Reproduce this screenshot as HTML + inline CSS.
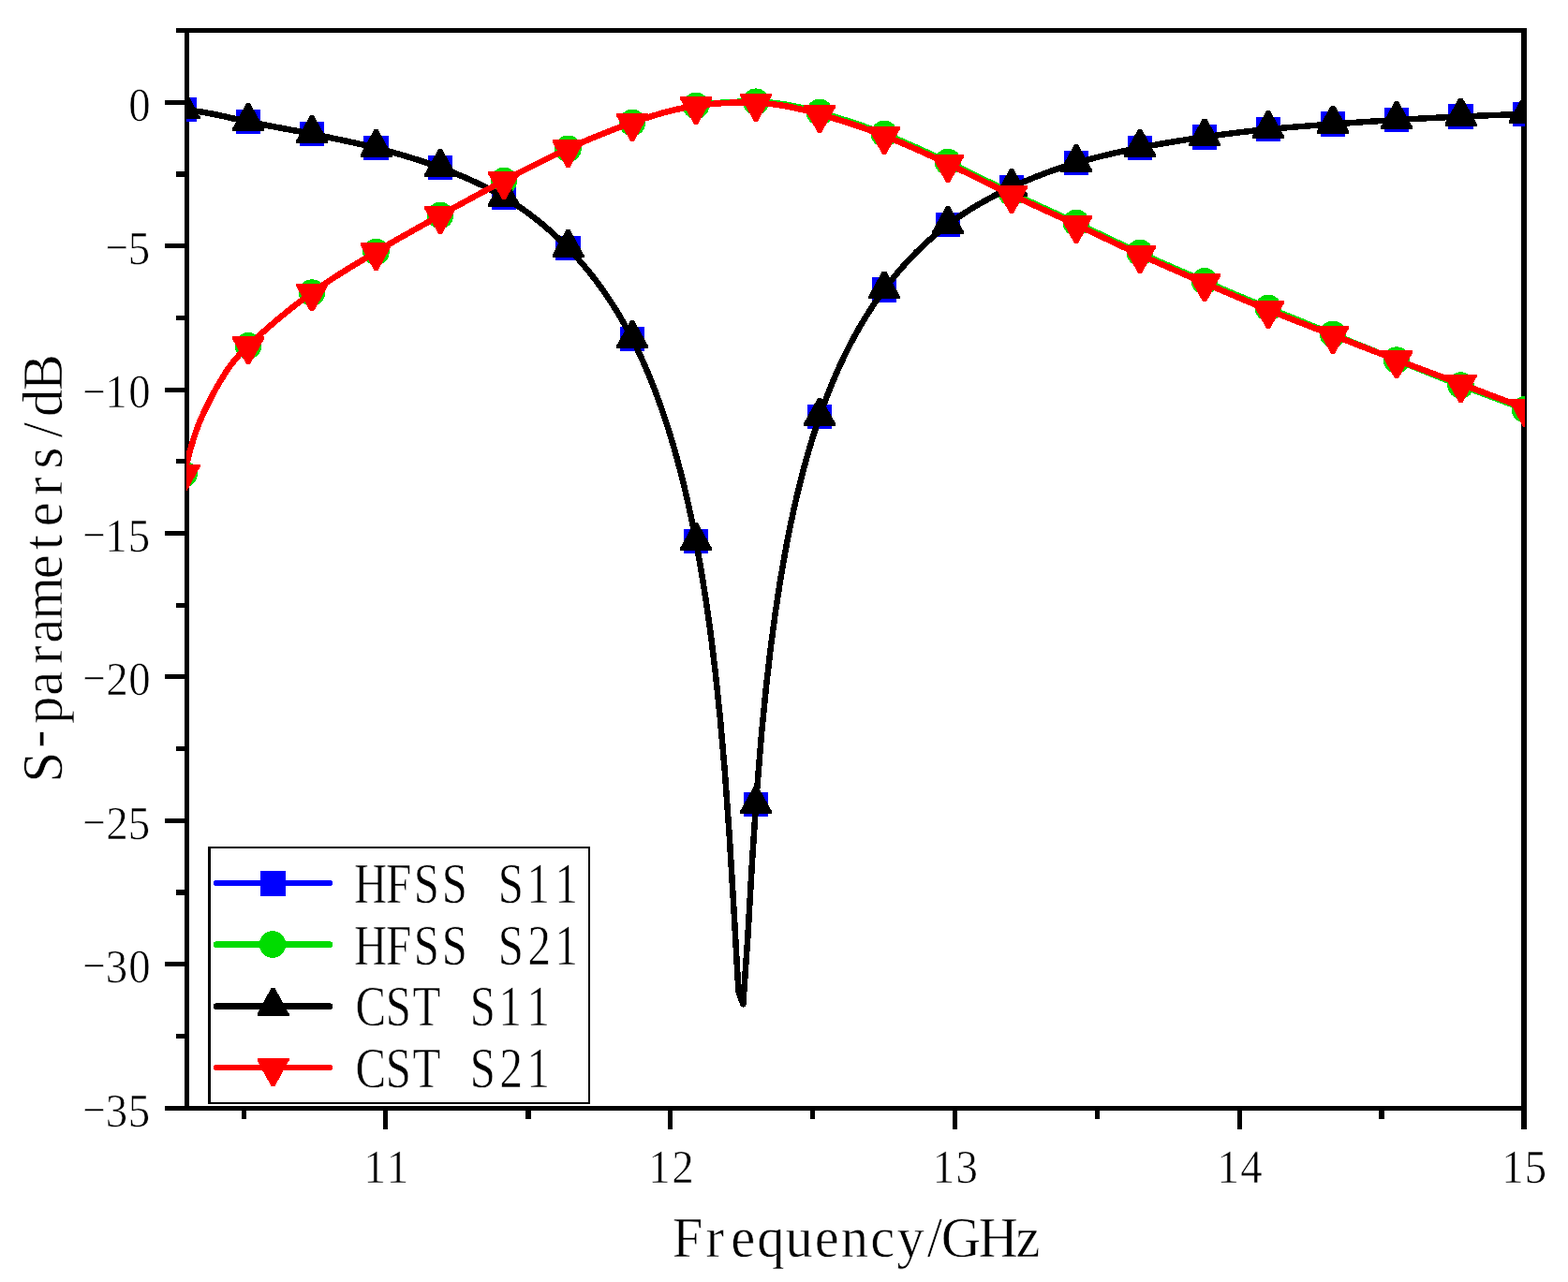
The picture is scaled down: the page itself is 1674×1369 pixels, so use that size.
<!DOCTYPE html>
<html lang="en"><head><meta charset="utf-8"><title>S-parameters</title>
<style>
html,body{margin:0;padding:0;background:#fff;}
body{width:1674px;height:1369px;overflow:hidden;}
svg{display:block;}
</style></head><body>
<svg width="1674" height="1369" viewBox="0 0 1674 1369" shape-rendering="crispEdges" text-rendering="geometricPrecision">
<rect width="1674" height="1369" fill="#fff"/>
<g fill="#000">
<rect x="197" y="30" width="5" height="1156"/>
<rect x="1624" y="30" width="6" height="1176"/>
<rect x="188" y="30" width="1442" height="5"/>
<rect x="176" y="1181" width="1454" height="5"/>
<rect x="176" y="107" width="21" height="5"/>
<rect x="176" y="260" width="21" height="5"/>
<rect x="176" y="414" width="21" height="5"/>
<rect x="176" y="567" width="21" height="5"/>
<rect x="176" y="720" width="21" height="5"/>
<rect x="176" y="874" width="21" height="5"/>
<rect x="176" y="1027" width="21" height="5"/>
<rect x="188" y="183" width="9" height="6"/>
<rect x="188" y="337" width="9" height="5"/>
<rect x="188" y="490" width="9" height="5"/>
<rect x="188" y="644" width="9" height="5"/>
<rect x="188" y="797" width="9" height="5"/>
<rect x="188" y="950" width="9" height="6"/>
<rect x="188" y="1104" width="9" height="5"/>
<rect x="409" y="1186" width="5" height="20"/>
<rect x="713" y="1186" width="5" height="20"/>
<rect x="1017" y="1186" width="5" height="20"/>
<rect x="1321" y="1186" width="5" height="20"/>
<rect x="258" y="1186" width="5" height="9"/>
<rect x="561" y="1186" width="6" height="9"/>
<rect x="865" y="1186" width="5" height="9"/>
<rect x="1169" y="1186" width="5" height="9"/>
<rect x="1472" y="1186" width="6" height="9"/>
</g>
<defs><clipPath id="plotclip"><rect x="199" y="35" width="1429" height="1146"/></clipPath></defs>
<g clip-path="url(#plotclip)" shape-rendering="crispEdges">
<path d="M197.0,117.1 L198.0,117.2 L199.0,117.3 L200.0,117.4 L201.0,117.5 L202.0,117.7 L203.0,117.8 L204.0,117.9 L205.0,118.1 L206.0,118.2 L207.0,118.3 L208.0,118.5 L209.0,118.6 L210.0,118.8 L211.0,118.9 L212.0,119.1 L213.0,119.2 L214.0,119.4 L215.0,119.6 L216.0,119.7 L217.0,119.9 L218.0,120.1 L219.0,120.2 L220.0,120.4 L221.0,120.6 L222.0,120.8 L223.0,120.9 L224.0,121.1 L225.0,121.3 L226.0,121.5 L227.0,121.7 L228.0,121.9 L229.0,122.1 L230.0,122.3 L231.0,122.5 L232.0,122.7 L233.0,122.9 L234.0,123.1 L235.0,123.3 L236.0,123.6 L237.0,123.8 L238.0,124.0 L239.0,124.2 L240.0,124.4 L241.0,124.7 L242.0,124.9 L243.0,125.1 L244.0,125.3 L245.0,125.6 L246.0,125.8 L247.0,126.0 L248.0,126.3 L249.0,126.5 L250.0,126.7 L251.0,126.9 L252.0,127.2 L253.0,127.4 L254.0,127.6 L255.0,127.9 L256.0,128.1 L257.0,128.3 L258.0,128.5 L259.0,128.7 L260.0,129.0 L261.0,129.2 L262.0,129.4 L263.0,129.6 L264.0,129.8 L265.0,130.0 L266.0,130.2 L267.0,130.4 L268.0,130.6 L269.0,130.8 L270.0,131.0 L271.0,131.2 L272.0,131.4 L273.0,131.6 L274.0,131.8 L275.0,132.0 L276.0,132.2 L277.0,132.4 L278.0,132.5 L279.0,132.7 L280.0,132.9 L281.0,133.1 L282.0,133.3 L283.0,133.5 L284.0,133.7 L285.0,133.9 L286.0,134.1 L287.0,134.3 L288.0,134.5 L289.0,134.7 L290.0,134.8 L291.0,135.0 L292.0,135.2 L293.0,135.4 L294.0,135.6 L295.0,135.8 L296.0,136.0 L297.0,136.2 L298.0,136.3 L299.0,136.5 L300.0,136.7 L301.0,136.9 L302.0,137.1 L303.0,137.3 L304.0,137.5 L305.0,137.6 L306.0,137.8 L307.0,138.0 L308.0,138.2 L309.0,138.4 L310.0,138.6 L311.0,138.8 L312.0,138.9 L313.0,139.1 L314.0,139.3 L315.0,139.5 L316.0,139.7 L317.0,139.9 L318.0,140.1 L319.0,140.3 L320.0,140.4 L321.0,140.6 L322.0,140.8 L323.0,141.0 L324.0,141.2 L325.0,141.4 L326.0,141.6 L327.0,141.8 L328.0,142.0 L329.0,142.2 L330.0,142.4 L331.0,142.6 L332.0,142.8 L333.0,143.0 L334.0,143.2 L335.0,143.4 L336.0,143.6 L337.0,143.8 L338.0,144.0 L339.0,144.2 L340.0,144.4 L341.0,144.7 L342.0,144.9 L343.0,145.1 L344.0,145.3 L345.0,145.5 L346.0,145.7 L347.0,145.9 L348.0,146.1 L349.0,146.3 L350.0,146.5 L351.0,146.7 L352.0,146.9 L353.0,147.1 L354.0,147.3 L355.0,147.6 L356.0,147.8 L357.0,148.0 L358.0,148.2 L359.0,148.4 L360.0,148.6 L361.0,148.8 L362.0,149.0 L363.0,149.2 L364.0,149.4 L365.0,149.6 L366.0,149.9 L367.0,150.1 L368.0,150.3 L369.0,150.5 L370.0,150.7 L371.0,150.9 L372.0,151.1 L373.0,151.4 L374.0,151.6 L375.0,151.8 L376.0,152.0 L377.0,152.2 L378.0,152.4 L379.0,152.7 L380.0,152.9 L381.0,153.1 L382.0,153.3 L383.0,153.6 L384.0,153.8 L385.0,154.0 L386.0,154.2 L387.0,154.5 L388.0,154.7 L389.0,154.9 L390.0,155.2 L391.0,155.4 L392.0,155.6 L393.0,155.9 L394.0,156.1 L395.0,156.4 L396.0,156.6 L397.0,156.9 L398.0,157.1 L399.0,157.4 L400.0,157.6 L401.0,157.9 L402.0,158.1 L403.0,158.4 L404.0,158.6 L405.0,158.9 L406.0,159.2 L407.0,159.4 L408.0,159.7 L409.0,160.0 L410.0,160.2 L411.0,160.5 L412.0,160.8 L413.0,161.0 L414.0,161.3 L415.0,161.6 L416.0,161.9 L417.0,162.1 L418.0,162.4 L419.0,162.7 L420.0,163.0 L421.0,163.2 L422.0,163.5 L423.0,163.8 L424.0,164.1 L425.0,164.4 L426.0,164.7 L427.0,165.0 L428.0,165.2 L429.0,165.5 L430.0,165.8 L431.0,166.1 L432.0,166.4 L433.0,166.7 L434.0,167.0 L435.0,167.3 L436.0,167.6 L437.0,167.9 L438.0,168.2 L439.0,168.5 L440.0,168.8 L441.0,169.1 L442.0,169.5 L443.0,169.8 L444.0,170.1 L445.0,170.4 L446.0,170.7 L447.0,171.0 L448.0,171.4 L449.0,171.7 L450.0,172.0 L451.0,172.3 L452.0,172.7 L453.0,173.0 L454.0,173.3 L455.0,173.7 L456.0,174.0 L457.0,174.4 L458.0,174.7 L459.0,175.0 L460.0,175.4 L461.0,175.7 L462.0,176.1 L463.0,176.5 L464.0,176.8 L465.0,177.2 L466.0,177.5 L467.0,177.9 L468.0,178.3 L469.0,178.6 L470.0,179.0 L471.0,179.4 L472.0,179.8 L473.0,180.1 L474.0,180.5 L475.0,180.9 L476.0,181.3 L477.0,181.7 L478.0,182.0 L479.0,182.4 L480.0,182.8 L481.0,183.2 L482.0,183.6 L483.0,184.0 L484.0,184.4 L485.0,184.8 L486.0,185.2 L487.0,185.6 L488.0,186.0 L489.0,186.5 L490.0,186.9 L491.0,187.3 L492.0,187.7 L493.0,188.1 L494.0,188.6 L495.0,189.0 L496.0,189.4 L497.0,189.8 L498.0,190.3 L499.0,190.7 L500.0,191.2 L501.0,191.6 L502.0,192.0 L503.0,192.5 L504.0,192.9 L505.0,193.4 L506.0,193.9 L507.0,194.3 L508.0,194.8 L509.0,195.3 L510.0,195.7 L511.0,196.2 L512.0,196.7 L513.0,197.2 L514.0,197.6 L515.0,198.1 L516.0,198.6 L517.0,199.1 L518.0,199.6 L519.0,200.1 L520.0,200.6 L521.0,201.1 L522.0,201.7 L523.0,202.2 L524.0,202.7 L525.0,203.2 L526.0,203.8 L527.0,204.3 L528.0,204.8 L529.0,205.4 L530.0,205.9 L531.0,206.5 L532.0,207.0 L533.0,207.6 L534.0,208.2 L535.0,208.7 L536.0,209.3 L537.0,209.9 L538.0,210.5 L539.0,211.1 L540.0,211.7 L541.0,212.3 L542.0,212.9 L543.0,213.5 L544.0,214.1 L545.0,214.8 L546.0,215.4 L547.0,216.0 L548.0,216.7 L549.0,217.3 L550.0,218.0 L551.0,218.6 L552.0,219.3 L553.0,220.0 L554.0,220.6 L555.0,221.3 L556.0,222.0 L557.0,222.7 L558.0,223.4 L559.0,224.1 L560.0,224.8 L561.0,225.5 L562.0,226.2 L563.0,227.0 L564.0,227.7 L565.0,228.4 L566.0,229.2 L567.0,229.9 L568.0,230.7 L569.0,231.5 L570.0,232.2 L571.0,233.0 L572.0,233.8 L573.0,234.6 L574.0,235.4 L575.0,236.2 L576.0,237.0 L577.0,237.8 L578.0,238.6 L579.0,239.4 L580.0,240.3 L581.0,241.1 L582.0,242.0 L583.0,242.8 L584.0,243.7 L585.0,244.6 L586.0,245.4 L587.0,246.3 L588.0,247.2 L589.0,248.1 L590.0,249.0 L591.0,249.9 L592.0,250.8 L593.0,251.8 L594.0,252.7 L595.0,253.6 L596.0,254.6 L597.0,255.5 L598.0,256.5 L599.0,257.5 L600.0,258.5 L601.0,259.4 L602.0,260.4 L603.0,261.4 L604.0,262.4 L605.0,263.5 L606.0,264.5 L607.0,265.5 L608.0,266.6 L609.0,267.6 L610.0,268.7 L611.0,269.7 L612.0,270.8 L613.0,271.9 L614.0,273.0 L615.0,274.1 L616.0,275.2 L617.0,276.3 L618.0,277.4 L619.0,278.6 L620.0,279.7 L621.0,280.9 L622.0,282.0 L623.0,283.2 L624.0,284.4 L625.0,285.6 L626.0,286.8 L627.0,288.0 L628.0,289.2 L629.0,290.4 L630.0,291.7 L631.0,292.9 L632.0,294.2 L633.0,295.5 L634.0,296.8 L635.0,298.1 L636.0,299.4 L637.0,300.7 L638.0,302.1 L639.0,303.4 L640.0,304.8 L641.0,306.1 L642.0,307.5 L643.0,308.9 L644.0,310.3 L645.0,311.8 L646.0,313.2 L647.0,314.7 L648.0,316.1 L649.0,317.6 L650.0,319.1 L651.0,320.6 L652.0,322.1 L653.0,323.7 L654.0,325.2 L655.0,326.8 L656.0,328.4 L657.0,330.0 L658.0,331.6 L659.0,333.3 L660.0,334.9 L661.0,336.6 L662.0,338.3 L663.0,340.0 L664.0,341.7 L665.0,343.4 L666.0,345.2 L667.0,347.0 L668.0,348.8 L669.0,350.6 L670.0,352.5 L671.0,354.3 L672.0,356.2 L673.0,358.1 L674.0,360.0 L675.0,362.0 L676.0,364.0 L677.0,366.0 L678.0,368.0 L679.0,370.0 L680.0,372.1 L681.0,374.2 L682.0,376.3 L683.0,378.4 L684.0,380.6 L685.0,382.8 L686.0,385.0 L687.0,387.2 L688.0,389.5 L689.0,391.8 L690.0,394.1 L691.0,396.5 L692.0,398.9 L693.0,401.3 L694.0,403.7 L695.0,406.2 L696.0,408.7 L697.0,411.2 L698.0,413.8 L699.0,416.4 L700.0,419.0 L701.0,421.7 L702.0,424.4 L703.0,427.1 L704.0,429.9 L705.0,432.7 L706.0,435.5 L707.0,438.4 L708.0,441.3 L709.0,444.3 L710.0,447.3 L711.0,450.3 L712.0,453.4 L713.0,456.6 L714.0,459.7 L715.0,463.0 L716.0,466.2 L717.0,469.6 L718.0,472.9 L719.0,476.4 L720.0,479.8 L721.0,483.4 L722.0,486.9 L723.0,490.6 L724.0,494.3 L725.0,498.0 L726.0,501.8 L727.0,505.7 L728.0,509.7 L729.0,513.7 L730.0,517.7 L731.0,521.9 L732.0,526.1 L733.0,530.4 L734.0,534.8 L735.0,539.2 L736.0,543.8 L737.0,548.4 L738.0,553.1 L739.0,557.9 L740.0,562.7 L741.0,567.7 L742.0,572.8 L743.0,578.0 L744.0,583.3 L749.2,612.7 L754.1,643.8 L759.0,678.9 L763.9,719.3 L768.8,766.3 L773.7,822.4 L778.6,890.3 L783.5,971.5 L788.4,1058.5 L793.3,1072.3 L798.2,1003.0 L803.1,918.2 L808.0,845.2 L812.9,785.1 L817.8,735.0 L822.7,692.4 L827.6,655.6 L832.5,623.2 L837.4,594.5 L838.4,589.0 L839.4,583.6 L840.4,578.4 L841.4,573.2 L842.4,568.2 L843.4,563.2 L844.4,558.4 L845.4,553.6 L846.4,549.0 L847.4,544.4 L848.4,539.9 L849.4,535.5 L850.4,531.2 L851.4,527.0 L852.4,522.8 L853.4,518.7 L854.4,514.7 L855.4,510.7 L856.4,506.9 L857.4,503.0 L858.4,499.3 L859.4,495.6 L860.4,491.9 L861.4,488.4 L862.4,484.8 L863.4,481.4 L864.4,478.0 L865.4,474.6 L866.4,471.3 L867.4,468.0 L868.4,464.8 L869.4,461.7 L870.4,458.6 L871.4,455.5 L872.4,452.5 L873.4,449.5 L874.4,446.5 L875.4,443.6 L876.4,440.8 L877.4,438.0 L878.4,435.2 L879.4,432.5 L880.4,429.8 L881.4,427.1 L882.4,424.5 L883.4,421.9 L884.4,419.3 L885.4,416.8 L886.4,414.3 L887.4,411.8 L888.4,409.4 L889.4,407.0 L890.4,404.6 L891.4,402.3 L892.4,400.0 L893.4,397.7 L894.4,395.4 L895.4,393.2 L896.4,391.0 L897.4,388.8 L898.4,386.7 L899.4,384.5 L900.4,382.4 L901.4,380.4 L902.4,378.3 L903.4,376.3 L904.4,374.3 L905.4,372.3 L906.4,370.3 L907.4,368.4 L908.4,366.4 L909.4,364.5 L910.4,362.7 L911.4,360.8 L912.4,359.0 L913.4,357.1 L914.4,355.3 L915.4,353.6 L916.4,351.8 L917.4,350.0 L918.4,348.3 L919.4,346.6 L920.4,344.9 L921.4,343.2 L922.4,341.6 L923.4,339.9 L924.4,338.3 L925.4,336.7 L926.4,335.1 L927.4,333.5 L928.4,331.9 L929.4,330.4 L930.4,328.8 L931.4,327.3 L932.4,325.8 L933.4,324.3 L934.4,322.8 L935.4,321.4 L936.4,319.9 L937.4,318.5 L938.4,317.1 L939.4,315.6 L940.4,314.2 L941.4,312.9 L942.4,311.5 L943.4,310.1 L944.4,308.8 L945.4,307.4 L946.4,306.1 L947.4,304.8 L948.4,303.5 L949.4,302.2 L950.4,300.9 L951.4,299.6 L952.4,298.4 L953.4,297.1 L954.4,295.9 L955.4,294.7 L956.4,293.4 L957.4,292.2 L958.4,291.0 L959.4,289.9 L960.4,288.7 L961.4,287.5 L962.4,286.4 L963.4,285.2 L964.4,284.1 L965.4,283.0 L966.4,281.9 L967.4,280.8 L968.4,279.7 L969.4,278.6 L970.4,277.5 L971.4,276.4 L972.4,275.4 L973.4,274.3 L974.4,273.3 L975.4,272.3 L976.4,271.3 L977.4,270.2 L978.4,269.2 L979.4,268.2 L980.4,267.3 L981.4,266.3 L982.4,265.3 L983.4,264.3 L984.4,263.4 L985.4,262.4 L986.4,261.5 L987.4,260.6 L988.4,259.7 L989.4,258.7 L990.4,257.8 L991.4,256.9 L992.4,256.1 L993.4,255.2 L994.4,254.3 L995.4,253.4 L996.4,252.6 L997.4,251.7 L998.4,250.9 L999.4,250.0 L1000.4,249.2 L1001.4,248.4 L1002.4,247.5 L1003.4,246.7 L1004.4,245.9 L1005.4,245.1 L1006.4,244.3 L1007.4,243.5 L1008.4,242.8 L1009.4,242.0 L1010.4,241.2 L1011.4,240.5 L1012.4,239.7 L1013.4,239.0 L1014.4,238.2 L1015.4,237.5 L1016.4,236.7 L1017.4,236.0 L1018.4,235.3 L1019.4,234.6 L1020.4,233.9 L1021.4,233.2 L1022.4,232.5 L1023.4,231.8 L1024.4,231.1 L1025.4,230.4 L1026.4,229.8 L1027.4,229.1 L1028.4,228.4 L1029.4,227.8 L1030.4,227.1 L1031.4,226.5 L1032.4,225.8 L1033.4,225.2 L1034.4,224.6 L1035.4,224.0 L1036.4,223.3 L1037.4,222.7 L1038.4,222.1 L1039.4,221.5 L1040.4,220.9 L1041.4,220.3 L1042.4,219.7 L1043.4,219.1 L1044.4,218.5 L1045.4,217.9 L1046.4,217.4 L1047.4,216.8 L1048.4,216.2 L1049.4,215.6 L1050.4,215.1 L1051.4,214.5 L1052.4,214.0 L1053.4,213.4 L1054.4,212.9 L1055.4,212.3 L1056.4,211.8 L1057.4,211.3 L1058.4,210.7 L1059.4,210.2 L1060.4,209.7 L1061.4,209.1 L1062.4,208.6 L1063.4,208.1 L1064.4,207.6 L1065.4,207.1 L1066.4,206.6 L1067.4,206.1 L1068.4,205.6 L1069.4,205.1 L1070.4,204.6 L1071.4,204.1 L1072.4,203.6 L1073.4,203.1 L1074.4,202.6 L1075.4,202.2 L1076.4,201.7 L1077.4,201.2 L1078.4,200.7 L1079.4,200.3 L1080.4,199.8 L1081.4,199.4 L1082.4,198.9 L1083.4,198.4 L1084.4,198.0 L1085.4,197.5 L1086.4,197.1 L1087.4,196.6 L1088.4,196.2 L1089.4,195.7 L1090.4,195.3 L1091.4,194.9 L1092.4,194.4 L1093.4,194.0 L1094.4,193.6 L1095.4,193.2 L1096.4,192.7 L1097.4,192.3 L1098.4,191.9 L1099.4,191.5 L1100.4,191.1 L1101.4,190.7 L1102.4,190.2 L1103.4,189.8 L1104.4,189.4 L1105.4,189.0 L1106.4,188.6 L1107.4,188.2 L1108.4,187.9 L1109.4,187.5 L1110.4,187.1 L1111.4,186.7 L1112.4,186.3 L1113.4,185.9 L1114.4,185.6 L1115.4,185.2 L1116.4,184.8 L1117.4,184.4 L1118.4,184.1 L1119.4,183.7 L1120.4,183.3 L1121.4,183.0 L1122.4,182.6 L1123.4,182.3 L1124.4,181.9 L1125.4,181.6 L1126.4,181.2 L1127.4,180.9 L1128.4,180.5 L1129.4,180.2 L1130.4,179.9 L1131.4,179.5 L1132.4,179.2 L1133.4,178.9 L1134.4,178.5 L1135.4,178.2 L1136.4,177.9 L1137.4,177.6 L1138.4,177.2 L1139.4,176.9 L1140.4,176.6 L1141.4,176.3 L1142.4,176.0 L1143.4,175.7 L1144.4,175.4 L1145.4,175.1 L1146.4,174.8 L1147.4,174.5 L1148.4,174.2 L1149.4,173.9 L1150.4,173.6 L1151.4,173.3 L1152.4,173.0 L1153.4,172.7 L1154.4,172.4 L1155.4,172.2 L1156.4,171.9 L1157.4,171.6 L1158.4,171.3 L1159.4,171.1 L1160.4,170.8 L1161.4,170.5 L1162.4,170.2 L1163.4,170.0 L1164.4,169.7 L1165.4,169.5 L1166.4,169.2 L1167.4,168.9 L1168.4,168.7 L1169.4,168.4 L1170.4,168.2 L1171.4,167.9 L1172.4,167.7 L1173.4,167.4 L1174.4,167.2 L1175.4,166.9 L1176.4,166.7 L1177.4,166.4 L1178.4,166.2 L1179.4,166.0 L1180.4,165.7 L1181.4,165.5 L1182.4,165.2 L1183.4,165.0 L1184.4,164.8 L1185.4,164.5 L1186.4,164.3 L1187.4,164.1 L1188.4,163.9 L1189.4,163.6 L1190.4,163.4 L1191.4,163.2 L1192.4,163.0 L1193.4,162.7 L1194.4,162.5 L1195.4,162.3 L1196.4,162.1 L1197.4,161.9 L1198.4,161.6 L1199.4,161.4 L1200.4,161.2 L1201.4,161.0 L1202.4,160.8 L1203.4,160.6 L1204.4,160.4 L1205.4,160.2 L1206.4,159.9 L1207.4,159.7 L1208.4,159.5 L1209.4,159.3 L1210.4,159.1 L1211.4,158.9 L1212.4,158.7 L1213.4,158.5 L1214.4,158.3 L1215.4,158.1 L1216.4,157.9 L1217.4,157.7 L1218.4,157.5 L1219.4,157.3 L1220.4,157.1 L1221.4,156.9 L1222.4,156.7 L1223.4,156.6 L1224.4,156.4 L1225.4,156.2 L1226.4,156.0 L1227.4,155.8 L1228.4,155.6 L1229.4,155.4 L1230.4,155.2 L1231.4,155.1 L1232.4,154.9 L1233.4,154.7 L1234.4,154.5 L1235.4,154.3 L1236.4,154.2 L1237.4,154.0 L1238.4,153.8 L1239.4,153.6 L1240.4,153.5 L1241.4,153.3 L1242.4,153.1 L1243.4,152.9 L1244.4,152.8 L1245.4,152.6 L1246.4,152.4 L1247.4,152.3 L1248.4,152.1 L1249.4,151.9 L1250.4,151.8 L1251.4,151.6 L1252.4,151.4 L1253.4,151.3 L1254.4,151.1 L1255.4,150.9 L1256.4,150.8 L1257.4,150.6 L1258.4,150.4 L1259.4,150.3 L1260.4,150.1 L1261.4,150.0 L1262.4,149.8 L1263.4,149.7 L1264.4,149.5 L1265.4,149.3 L1266.4,149.2 L1267.4,149.0 L1268.4,148.9 L1269.4,148.7 L1270.4,148.6 L1271.4,148.4 L1272.4,148.3 L1273.4,148.1 L1274.4,148.0 L1275.4,147.8 L1276.4,147.7 L1277.4,147.5 L1278.4,147.4 L1279.4,147.2 L1280.4,147.1 L1281.4,147.0 L1282.4,146.8 L1283.4,146.7 L1284.4,146.5 L1285.4,146.4 L1286.4,146.2 L1287.4,146.1 L1288.4,146.0 L1289.4,145.8 L1290.4,145.7 L1291.4,145.5 L1292.4,145.4 L1293.4,145.3 L1294.4,145.1 L1295.4,145.0 L1296.4,144.8 L1297.4,144.7 L1298.4,144.6 L1299.4,144.4 L1300.4,144.3 L1301.4,144.2 L1302.4,144.0 L1303.4,143.9 L1304.4,143.8 L1305.4,143.6 L1306.4,143.5 L1307.4,143.4 L1308.4,143.2 L1309.4,143.1 L1310.4,143.0 L1311.4,142.8 L1312.4,142.7 L1313.4,142.6 L1314.4,142.5 L1315.4,142.3 L1316.4,142.2 L1317.4,142.1 L1318.4,142.0 L1319.4,141.8 L1320.4,141.7 L1321.4,141.6 L1322.4,141.5 L1323.4,141.3 L1324.4,141.2 L1325.4,141.1 L1326.4,141.0 L1327.4,140.9 L1328.4,140.7 L1329.4,140.6 L1330.4,140.5 L1331.4,140.4 L1332.4,140.3 L1333.4,140.2 L1334.4,140.1 L1335.4,139.9 L1336.4,139.8 L1337.4,139.7 L1338.4,139.6 L1339.4,139.5 L1340.4,139.4 L1341.4,139.3 L1342.4,139.2 L1343.4,139.1 L1344.4,139.0 L1345.4,138.9 L1346.4,138.8 L1347.4,138.7 L1348.4,138.6 L1349.4,138.5 L1350.4,138.4 L1351.4,138.3 L1352.4,138.2 L1353.4,138.1 L1354.4,138.0 L1355.4,137.9 L1356.4,137.8 L1357.4,137.7 L1358.4,137.6 L1359.4,137.5 L1360.4,137.4 L1361.4,137.3 L1362.4,137.2 L1363.4,137.1 L1364.4,137.0 L1365.4,136.9 L1366.4,136.9 L1367.4,136.8 L1368.4,136.7 L1369.4,136.6 L1370.4,136.5 L1371.4,136.4 L1372.4,136.3 L1373.4,136.3 L1374.4,136.2 L1375.4,136.1 L1376.4,136.0 L1377.4,135.9 L1378.4,135.8 L1379.4,135.8 L1380.4,135.7 L1381.4,135.6 L1382.4,135.5 L1383.4,135.4 L1384.4,135.4 L1385.4,135.3 L1386.4,135.2 L1387.4,135.1 L1388.4,135.1 L1389.4,135.0 L1390.4,134.9 L1391.4,134.8 L1392.4,134.8 L1393.4,134.7 L1394.4,134.6 L1395.4,134.5 L1396.4,134.4 L1397.4,134.4 L1398.4,134.3 L1399.4,134.2 L1400.4,134.2 L1401.4,134.1 L1402.4,134.0 L1403.4,133.9 L1404.4,133.9 L1405.4,133.8 L1406.4,133.7 L1407.4,133.6 L1408.4,133.6 L1409.4,133.5 L1410.4,133.4 L1411.4,133.3 L1412.4,133.3 L1413.4,133.2 L1414.4,133.1 L1415.4,133.1 L1416.4,133.0 L1417.4,132.9 L1418.4,132.8 L1419.4,132.8 L1420.4,132.7 L1421.4,132.6 L1422.4,132.5 L1423.4,132.5 L1424.4,132.4 L1425.4,132.3 L1426.4,132.3 L1427.4,132.2 L1428.4,132.1 L1429.4,132.0 L1430.4,132.0 L1431.4,131.9 L1432.4,131.8 L1433.4,131.8 L1434.4,131.7 L1435.4,131.6 L1436.4,131.5 L1437.4,131.5 L1438.4,131.4 L1439.4,131.3 L1440.4,131.3 L1441.4,131.2 L1442.4,131.1 L1443.4,131.0 L1444.4,131.0 L1445.4,130.9 L1446.4,130.8 L1447.4,130.8 L1448.4,130.7 L1449.4,130.6 L1450.4,130.6 L1451.4,130.5 L1452.4,130.4 L1453.4,130.4 L1454.4,130.3 L1455.4,130.2 L1456.4,130.2 L1457.4,130.1 L1458.4,130.0 L1459.4,130.0 L1460.4,129.9 L1461.4,129.8 L1462.4,129.8 L1463.4,129.7 L1464.4,129.6 L1465.4,129.6 L1466.4,129.5 L1467.4,129.4 L1468.4,129.4 L1469.4,129.3 L1470.4,129.3 L1471.4,129.2 L1472.4,129.1 L1473.4,129.1 L1474.4,129.0 L1475.4,128.9 L1476.4,128.9 L1477.4,128.8 L1478.4,128.8 L1479.4,128.7 L1480.4,128.6 L1481.4,128.6 L1482.4,128.5 L1483.4,128.4 L1484.4,128.4 L1485.4,128.3 L1486.4,128.3 L1487.4,128.2 L1488.4,128.2 L1489.4,128.1 L1490.4,128.0 L1491.4,128.0 L1492.4,127.9 L1493.4,127.9 L1494.4,127.8 L1495.4,127.7 L1496.4,127.7 L1497.4,127.6 L1498.4,127.6 L1499.4,127.5 L1500.4,127.5 L1501.4,127.4 L1502.4,127.4 L1503.4,127.3 L1504.4,127.2 L1505.4,127.2 L1506.4,127.1 L1507.4,127.1 L1508.4,127.0 L1509.4,127.0 L1510.4,126.9 L1511.4,126.9 L1512.4,126.8 L1513.4,126.8 L1514.4,126.7 L1515.4,126.6 L1516.4,126.6 L1517.4,126.5 L1518.4,126.5 L1519.4,126.4 L1520.4,126.4 L1521.4,126.3 L1522.4,126.3 L1523.4,126.2 L1524.4,126.2 L1525.4,126.1 L1526.4,126.1 L1527.4,126.0 L1528.4,126.0 L1529.4,125.9 L1530.4,125.9 L1531.4,125.8 L1532.4,125.8 L1533.4,125.7 L1534.4,125.7 L1535.4,125.6 L1536.4,125.6 L1537.4,125.5 L1538.4,125.5 L1539.4,125.4 L1540.4,125.4 L1541.4,125.3 L1542.4,125.3 L1543.4,125.2 L1544.4,125.2 L1545.4,125.1 L1546.4,125.1 L1547.4,125.1 L1548.4,125.0 L1549.4,125.0 L1550.4,124.9 L1551.4,124.9 L1552.4,124.8 L1553.4,124.8 L1554.4,124.7 L1555.4,124.7 L1556.4,124.6 L1557.4,124.6 L1558.4,124.5 L1559.4,124.5 L1560.4,124.5 L1561.4,124.4 L1562.4,124.4 L1563.4,124.3 L1564.4,124.3 L1565.4,124.2 L1566.4,124.2 L1567.4,124.2 L1568.4,124.1 L1569.4,124.1 L1570.4,124.0 L1571.4,124.0 L1572.4,123.9 L1573.4,123.9 L1574.4,123.9 L1575.4,123.8 L1576.4,123.8 L1577.4,123.7 L1578.4,123.7 L1579.4,123.6 L1580.4,123.6 L1581.4,123.6 L1582.4,123.5 L1583.4,123.5 L1584.4,123.4 L1585.4,123.4 L1586.4,123.4 L1587.4,123.3 L1588.4,123.3 L1589.4,123.2 L1590.4,123.2 L1591.4,123.2 L1592.4,123.1 L1593.4,123.1 L1594.4,123.0 L1595.4,123.0 L1596.4,123.0 L1597.4,122.9 L1598.4,122.9 L1599.4,122.8 L1600.4,122.8 L1601.4,122.8 L1602.4,122.7 L1603.4,122.7 L1604.4,122.7 L1605.4,122.6 L1606.4,122.6 L1607.4,122.5 L1608.4,122.5 L1609.4,122.5 L1610.4,122.4 L1611.4,122.4 L1612.4,122.4 L1613.4,122.3 L1614.4,122.3 L1615.4,122.2 L1616.4,122.2 L1617.4,122.2 L1618.4,122.1 L1619.4,122.1 L1620.4,122.1 L1621.4,122.0 L1622.4,122.0 L1623.4,122.0 L1624.4,121.9 L1625.4,121.9 L1626.4,121.9 L1627.4,121.8" fill="none" stroke="#0000ff" stroke-width="4" stroke-linejoin="round"/>
<rect x="183.25" y="103.75" width="26.5" height="26.5" fill="#0000ff"/>
<rect x="251.75" y="116.75" width="26.5" height="26.5" fill="#0000ff"/>
<rect x="319.75" y="129.75" width="26.5" height="26.5" fill="#0000ff"/>
<rect x="388.25" y="144.75" width="26.5" height="26.5" fill="#0000ff"/>
<rect x="456.75" y="165.75" width="26.5" height="26.5" fill="#0000ff"/>
<rect x="524.75" y="197.25" width="26.5" height="26.5" fill="#0000ff"/>
<rect x="593.25" y="251.75" width="26.5" height="26.5" fill="#0000ff"/>
<rect x="661.75" y="348.75" width="26.5" height="26.5" fill="#0000ff"/>
<rect x="729.75" y="564.75" width="26.5" height="26.5" fill="#0000ff"/>
<rect x="793.75" y="845.75" width="26.5" height="26.5" fill="#0000ff"/>
<rect x="861.75" y="431.55" width="26.5" height="26.5" fill="#0000ff"/>
<rect x="930.75" y="296.05" width="26.5" height="26.5" fill="#0000ff"/>
<rect x="998.75" y="226.75" width="26.5" height="26.5" fill="#0000ff"/>
<rect x="1066.75" y="186.75" width="26.5" height="26.5" fill="#0000ff"/>
<rect x="1135.75" y="160.75" width="26.5" height="26.5" fill="#0000ff"/>
<rect x="1203.75" y="144.55" width="26.5" height="26.5" fill="#0000ff"/>
<rect x="1272.75" y="133.05" width="26.5" height="26.5" fill="#0000ff"/>
<rect x="1340.75" y="124.75" width="26.5" height="26.5" fill="#0000ff"/>
<rect x="1409.75" y="119.25" width="26.5" height="26.5" fill="#0000ff"/>
<rect x="1477.75" y="114.75" width="26.5" height="26.5" fill="#0000ff"/>
<rect x="1546.25" y="111.25" width="26.5" height="26.5" fill="#0000ff"/>
<rect x="1614.75" y="108.55" width="26.5" height="26.5" fill="#0000ff"/>
<path d="M197.0,504.1 L198.0,500.1 L199.0,496.1 L200.0,492.2 L201.0,488.3 L202.0,484.6 L203.0,480.9 L204.0,477.4 L205.0,474.0 L206.0,470.7 L207.0,467.5 L208.0,464.4 L209.0,461.5 L210.0,458.7 L211.0,456.0 L212.0,453.5 L213.0,451.0 L214.0,448.6 L215.0,446.2 L216.0,443.9 L217.0,441.7 L218.0,439.5 L219.0,437.4 L220.0,435.4 L221.0,433.3 L222.0,431.3 L223.0,429.3 L224.0,427.4 L225.0,425.4 L226.0,423.5 L227.0,421.6 L228.0,419.7 L229.0,417.9 L230.0,416.0 L231.0,414.2 L232.0,412.5 L233.0,410.7 L234.0,409.0 L235.0,407.3 L236.0,405.7 L237.0,404.0 L238.0,402.4 L239.0,400.8 L240.0,399.2 L241.0,397.6 L242.0,396.1 L243.0,394.6 L244.0,393.1 L245.0,391.7 L246.0,390.3 L247.0,389.0 L248.0,387.7 L249.0,386.5 L250.0,385.2 L251.0,384.0 L252.0,382.9 L253.0,381.7 L254.0,380.6 L255.0,379.4 L256.0,378.3 L257.0,377.3 L258.0,376.2 L259.0,375.1 L260.0,374.1 L261.0,373.1 L262.0,372.1 L263.0,371.1 L264.0,370.2 L265.0,369.2 L266.0,368.3 L267.0,367.3 L268.0,366.4 L269.0,365.4 L270.0,364.5 L271.0,363.6 L272.0,362.6 L273.0,361.7 L274.0,360.8 L275.0,359.9 L276.0,359.0 L277.0,358.1 L278.0,357.1 L279.0,356.2 L280.0,355.3 L281.0,354.5 L282.0,353.6 L283.0,352.7 L284.0,351.8 L285.0,350.9 L286.0,350.0 L287.0,349.2 L288.0,348.3 L289.0,347.4 L290.0,346.6 L291.0,345.7 L292.0,344.8 L293.0,344.0 L294.0,343.1 L295.0,342.3 L296.0,341.5 L297.0,340.6 L298.0,339.8 L299.0,338.9 L300.0,338.1 L301.0,337.3 L302.0,336.5 L303.0,335.7 L304.0,334.8 L305.0,334.0 L306.0,333.2 L307.0,332.4 L308.0,331.6 L309.0,330.8 L310.0,330.0 L311.0,329.2 L312.0,328.4 L313.0,327.7 L314.0,326.9 L315.0,326.1 L316.0,325.3 L317.0,324.5 L318.0,323.8 L319.0,323.0 L320.0,322.2 L321.0,321.5 L322.0,320.7 L323.0,320.0 L324.0,319.2 L325.0,318.5 L326.0,317.7 L327.0,317.0 L328.0,316.3 L329.0,315.5 L330.0,314.8 L331.0,314.1 L332.0,313.3 L333.0,312.6 L334.0,311.9 L335.0,311.2 L336.0,310.4 L337.0,309.7 L338.0,309.0 L339.0,308.3 L340.0,307.6 L341.0,306.9 L342.0,306.2 L343.0,305.6 L344.0,304.9 L345.0,304.2 L346.0,303.5 L347.0,302.8 L348.0,302.2 L349.0,301.5 L350.0,300.8 L351.0,300.2 L352.0,299.5 L353.0,298.8 L354.0,298.2 L355.0,297.5 L356.0,296.9 L357.0,296.2 L358.0,295.6 L359.0,295.0 L360.0,294.3 L361.0,293.7 L362.0,293.0 L363.0,292.4 L364.0,291.8 L365.0,291.2 L366.0,290.5 L367.0,289.9 L368.0,289.3 L369.0,288.7 L370.0,288.0 L371.0,287.4 L372.0,286.8 L373.0,286.2 L374.0,285.6 L375.0,285.0 L376.0,284.4 L377.0,283.7 L378.0,283.1 L379.0,282.5 L380.0,281.9 L381.0,281.3 L382.0,280.7 L383.0,280.1 L384.0,279.5 L385.0,278.9 L386.0,278.3 L387.0,277.7 L388.0,277.1 L389.0,276.5 L390.0,275.9 L391.0,275.3 L392.0,274.7 L393.0,274.1 L394.0,273.5 L395.0,272.9 L396.0,272.3 L397.0,271.7 L398.0,271.1 L399.0,270.5 L400.0,269.9 L401.0,269.3 L402.0,268.7 L403.0,268.1 L404.0,267.5 L405.0,266.9 L406.0,266.3 L407.0,265.7 L408.0,265.1 L409.0,264.5 L410.0,263.9 L411.0,263.3 L412.0,262.7 L413.0,262.2 L414.0,261.6 L415.0,261.0 L416.0,260.4 L417.0,259.8 L418.0,259.2 L419.0,258.7 L420.0,258.1 L421.0,257.5 L422.0,256.9 L423.0,256.4 L424.0,255.8 L425.0,255.2 L426.0,254.6 L427.0,254.1 L428.0,253.5 L429.0,252.9 L430.0,252.4 L431.0,251.8 L432.0,251.2 L433.0,250.7 L434.0,250.1 L435.0,249.5 L436.0,249.0 L437.0,248.4 L438.0,247.9 L439.0,247.3 L440.0,246.7 L441.0,246.2 L442.0,245.6 L443.0,245.1 L444.0,244.5 L445.0,243.9 L446.0,243.4 L447.0,242.8 L448.0,242.3 L449.0,241.7 L450.0,241.2 L451.0,240.6 L452.0,240.0 L453.0,239.5 L454.0,238.9 L455.0,238.4 L456.0,237.8 L457.0,237.3 L458.0,236.7 L459.0,236.1 L460.0,235.6 L461.0,235.0 L462.0,234.5 L463.0,233.9 L464.0,233.4 L465.0,232.8 L466.0,232.2 L467.0,231.7 L468.0,231.1 L469.0,230.6 L470.0,230.0 L471.0,229.4 L472.0,228.9 L473.0,228.3 L474.0,227.8 L475.0,227.2 L476.0,226.6 L477.0,226.1 L478.0,225.5 L479.0,225.0 L480.0,224.4 L481.0,223.9 L482.0,223.3 L483.0,222.8 L484.0,222.2 L485.0,221.6 L486.0,221.1 L487.0,220.5 L488.0,220.0 L489.0,219.4 L490.0,218.9 L491.0,218.3 L492.0,217.8 L493.0,217.2 L494.0,216.7 L495.0,216.1 L496.0,215.6 L497.0,215.0 L498.0,214.5 L499.0,214.0 L500.0,213.4 L501.0,212.9 L502.0,212.3 L503.0,211.8 L504.0,211.2 L505.0,210.7 L506.0,210.1 L507.0,209.6 L508.0,209.1 L509.0,208.5 L510.0,208.0 L511.0,207.4 L512.0,206.9 L513.0,206.4 L514.0,205.8 L515.0,205.3 L516.0,204.7 L517.0,204.2 L518.0,203.7 L519.0,203.1 L520.0,202.6 L521.0,202.1 L522.0,201.5 L523.0,201.0 L524.0,200.4 L525.0,199.9 L526.0,199.4 L527.0,198.8 L528.0,198.3 L529.0,197.8 L530.0,197.2 L531.0,196.7 L532.0,196.2 L533.0,195.6 L534.0,195.1 L535.0,194.6 L536.0,194.1 L537.0,193.5 L538.0,193.0 L539.0,192.5 L540.0,191.9 L541.0,191.4 L542.0,190.9 L543.0,190.4 L544.0,189.8 L545.0,189.3 L546.0,188.8 L547.0,188.3 L548.0,187.7 L549.0,187.2 L550.0,186.7 L551.0,186.2 L552.0,185.7 L553.0,185.1 L554.0,184.6 L555.0,184.1 L556.0,183.6 L557.0,183.1 L558.0,182.6 L559.0,182.1 L560.0,181.5 L561.0,181.0 L562.0,180.5 L563.0,180.0 L564.0,179.5 L565.0,179.0 L566.0,178.5 L567.0,178.0 L568.0,177.5 L569.0,177.0 L570.0,176.5 L571.0,176.0 L572.0,175.5 L573.0,175.0 L574.0,174.5 L575.0,174.0 L576.0,173.5 L577.0,173.0 L578.0,172.5 L579.0,172.0 L580.0,171.5 L581.0,171.0 L582.0,170.5 L583.0,170.0 L584.0,169.5 L585.0,169.0 L586.0,168.5 L587.0,168.1 L588.0,167.6 L589.0,167.1 L590.0,166.6 L591.0,166.1 L592.0,165.6 L593.0,165.2 L594.0,164.7 L595.0,164.2 L596.0,163.7 L597.0,163.3 L598.0,162.8 L599.0,162.3 L600.0,161.8 L601.0,161.4 L602.0,160.9 L603.0,160.4 L604.0,160.0 L605.0,159.5 L606.0,159.0 L607.0,158.6 L608.0,158.1 L609.0,157.6 L610.0,157.2 L611.0,156.7 L612.0,156.3 L613.0,155.8 L614.0,155.4 L615.0,154.9 L616.0,154.5 L617.0,154.0 L618.0,153.6 L619.0,153.2 L620.0,152.7 L621.0,152.3 L622.0,151.8 L623.0,151.4 L624.0,151.0 L625.0,150.5 L626.0,150.1 L627.0,149.7 L628.0,149.3 L629.0,148.8 L630.0,148.4 L631.0,148.0 L632.0,147.6 L633.0,147.2 L634.0,146.7 L635.0,146.3 L636.0,145.9 L637.0,145.5 L638.0,145.1 L639.0,144.7 L640.0,144.3 L641.0,143.9 L642.0,143.5 L643.0,143.1 L644.0,142.7 L645.0,142.3 L646.0,141.9 L647.0,141.5 L648.0,141.1 L649.0,140.7 L650.0,140.3 L651.0,139.9 L652.0,139.5 L653.0,139.1 L654.0,138.7 L655.0,138.4 L656.0,138.0 L657.0,137.6 L658.0,137.2 L659.0,136.8 L660.0,136.5 L661.0,136.1 L662.0,135.7 L663.0,135.3 L664.0,135.0 L665.0,134.6 L666.0,134.2 L667.0,133.9 L668.0,133.5 L669.0,133.1 L670.0,132.8 L671.0,132.4 L672.0,132.1 L673.0,131.7 L674.0,131.4 L675.0,131.0 L676.0,130.6 L677.0,130.3 L678.0,130.0 L679.0,129.6 L680.0,129.3 L681.0,128.9 L682.0,128.6 L683.0,128.2 L684.0,127.9 L685.0,127.6 L686.0,127.2 L687.0,126.9 L688.0,126.6 L689.0,126.2 L690.0,125.9 L691.0,125.6 L692.0,125.3 L693.0,124.9 L694.0,124.6 L695.0,124.3 L696.0,124.0 L697.0,123.7 L698.0,123.4 L699.0,123.1 L700.0,122.8 L701.0,122.5 L702.0,122.2 L703.0,121.9 L704.0,121.6 L705.0,121.3 L706.0,121.0 L707.0,120.7 L708.0,120.5 L709.0,120.2 L710.0,119.9 L711.0,119.7 L712.0,119.4 L713.0,119.1 L714.0,118.9 L715.0,118.6 L716.0,118.4 L717.0,118.1 L718.0,117.9 L719.0,117.6 L720.0,117.4 L721.0,117.2 L722.0,116.9 L723.0,116.7 L724.0,116.5 L725.0,116.3 L726.0,116.1 L727.0,115.9 L728.0,115.6 L729.0,115.4 L730.0,115.2 L731.0,115.1 L732.0,114.9 L733.0,114.7 L734.0,114.5 L735.0,114.3 L736.0,114.1 L737.0,114.0 L738.0,113.8 L739.0,113.6 L740.0,113.5 L741.0,113.3 L742.0,113.1 L743.0,113.0 L744.0,112.8 L745.0,112.6 L746.0,112.5 L747.0,112.3 L748.0,112.2 L749.0,112.0 L750.0,111.9 L751.0,111.7 L752.0,111.6 L753.0,111.5 L754.0,111.4 L755.0,111.2 L756.0,111.1 L757.0,111.0 L758.0,110.9 L759.0,110.8 L760.0,110.7 L761.0,110.6 L762.0,110.5 L763.0,110.4 L764.0,110.3 L765.0,110.2 L766.0,110.1 L767.0,110.0 L768.0,109.9 L769.0,109.8 L770.0,109.7 L771.0,109.7 L772.0,109.6 L773.0,109.5 L774.0,109.4 L775.0,109.4 L776.0,109.3 L777.0,109.2 L778.0,109.2 L779.0,109.1 L780.0,109.1 L781.0,109.0 L782.0,109.0 L783.0,108.9 L784.0,108.9 L785.0,108.8 L786.0,108.8 L787.0,108.8 L788.0,108.7 L789.0,108.7 L790.0,108.7 L791.0,108.7 L792.0,108.6 L793.0,108.6 L794.0,108.6 L795.0,108.6 L796.0,108.6 L797.0,108.6 L798.0,108.6 L799.0,108.6 L800.0,108.6 L801.0,108.6 L802.0,108.6 L803.0,108.6 L804.0,108.6 L805.0,108.6 L806.0,108.7 L807.0,108.7 L808.0,108.7 L809.0,108.7 L810.0,108.8 L811.0,108.8 L812.0,108.9 L813.0,108.9 L814.0,109.0 L815.0,109.0 L816.0,109.1 L817.0,109.2 L818.0,109.2 L819.0,109.3 L820.0,109.4 L821.0,109.5 L822.0,109.6 L823.0,109.7 L824.0,109.7 L825.0,109.8 L826.0,110.0 L827.0,110.1 L828.0,110.2 L829.0,110.3 L830.0,110.4 L831.0,110.5 L832.0,110.7 L833.0,110.8 L834.0,111.0 L835.0,111.1 L836.0,111.2 L837.0,111.4 L838.0,111.6 L839.0,111.7 L840.0,111.9 L841.0,112.1 L842.0,112.2 L843.0,112.4 L844.0,112.6 L845.0,112.8 L846.0,113.0 L847.0,113.2 L848.0,113.3 L849.0,113.5 L850.0,113.8 L851.0,114.0 L852.0,114.2 L853.0,114.4 L854.0,114.6 L855.0,114.8 L856.0,115.0 L857.0,115.3 L858.0,115.5 L859.0,115.7 L860.0,116.0 L861.0,116.2 L862.0,116.5 L863.0,116.7 L864.0,117.0 L865.0,117.3 L866.0,117.5 L867.0,117.8 L868.0,118.1 L869.0,118.3 L870.0,118.6 L871.0,118.9 L872.0,119.2 L873.0,119.4 L874.0,119.7 L875.0,120.0 L876.0,120.3 L877.0,120.6 L878.0,120.8 L879.0,121.1 L880.0,121.4 L881.0,121.7 L882.0,122.0 L883.0,122.3 L884.0,122.6 L885.0,122.9 L886.0,123.2 L887.0,123.5 L888.0,123.8 L889.0,124.1 L890.0,124.4 L891.0,124.7 L892.0,125.0 L893.0,125.3 L894.0,125.6 L895.0,125.9 L896.0,126.2 L897.0,126.5 L898.0,126.8 L899.0,127.1 L900.0,127.5 L901.0,127.8 L902.0,128.1 L903.0,128.4 L904.0,128.7 L905.0,129.1 L906.0,129.4 L907.0,129.7 L908.0,130.0 L909.0,130.4 L910.0,130.7 L911.0,131.0 L912.0,131.4 L913.0,131.7 L914.0,132.0 L915.0,132.4 L916.0,132.7 L917.0,133.1 L918.0,133.4 L919.0,133.7 L920.0,134.1 L921.0,134.4 L922.0,134.8 L923.0,135.1 L924.0,135.5 L925.0,135.8 L926.0,136.2 L927.0,136.6 L928.0,136.9 L929.0,137.3 L930.0,137.7 L931.0,138.0 L932.0,138.4 L933.0,138.8 L934.0,139.1 L935.0,139.5 L936.0,139.9 L937.0,140.3 L938.0,140.7 L939.0,141.0 L940.0,141.4 L941.0,141.8 L942.0,142.2 L943.0,142.6 L944.0,143.0 L945.0,143.4 L946.0,143.8 L947.0,144.2 L948.0,144.6 L949.0,145.0 L950.0,145.4 L951.0,145.8 L952.0,146.2 L953.0,146.6 L954.0,147.1 L955.0,147.5 L956.0,147.9 L957.0,148.3 L958.0,148.7 L959.0,149.1 L960.0,149.6 L961.0,150.0 L962.0,150.4 L963.0,150.8 L964.0,151.3 L965.0,151.7 L966.0,152.1 L967.0,152.6 L968.0,153.0 L969.0,153.4 L970.0,153.9 L971.0,154.3 L972.0,154.7 L973.0,155.2 L974.0,155.6 L975.0,156.0 L976.0,156.5 L977.0,156.9 L978.0,157.4 L979.0,157.8 L980.0,158.3 L981.0,158.7 L982.0,159.2 L983.0,159.6 L984.0,160.1 L985.0,160.5 L986.0,161.0 L987.0,161.4 L988.0,161.9 L989.0,162.3 L990.0,162.8 L991.0,163.2 L992.0,163.7 L993.0,164.2 L994.0,164.6 L995.0,165.1 L996.0,165.5 L997.0,166.0 L998.0,166.5 L999.0,166.9 L1000.0,167.4 L1001.0,167.8 L1002.0,168.3 L1003.0,168.8 L1004.0,169.2 L1005.0,169.7 L1006.0,170.2 L1007.0,170.7 L1008.0,171.1 L1009.0,171.6 L1010.0,172.1 L1011.0,172.5 L1012.0,173.0 L1013.0,173.5 L1014.0,173.9 L1015.0,174.4 L1016.0,174.9 L1017.0,175.4 L1018.0,175.8 L1019.0,176.3 L1020.0,176.8 L1021.0,177.3 L1022.0,177.8 L1023.0,178.2 L1024.0,178.7 L1025.0,179.2 L1026.0,179.7 L1027.0,180.2 L1028.0,180.7 L1029.0,181.1 L1030.0,181.6 L1031.0,182.1 L1032.0,182.6 L1033.0,183.1 L1034.0,183.6 L1035.0,184.1 L1036.0,184.5 L1037.0,185.0 L1038.0,185.5 L1039.0,186.0 L1040.0,186.5 L1041.0,187.0 L1042.0,187.5 L1043.0,188.0 L1044.0,188.5 L1045.0,189.0 L1046.0,189.4 L1047.0,189.9 L1048.0,190.4 L1049.0,190.9 L1050.0,191.4 L1051.0,191.9 L1052.0,192.4 L1053.0,192.9 L1054.0,193.4 L1055.0,193.9 L1056.0,194.3 L1057.0,194.8 L1058.0,195.3 L1059.0,195.8 L1060.0,196.3 L1061.0,196.8 L1062.0,197.3 L1063.0,197.8 L1064.0,198.3 L1065.0,198.7 L1066.0,199.2 L1067.0,199.7 L1068.0,200.2 L1069.0,200.7 L1070.0,201.2 L1071.0,201.7 L1072.0,202.1 L1073.0,202.6 L1074.0,203.1 L1075.0,203.6 L1076.0,204.1 L1077.0,204.6 L1078.0,205.0 L1079.0,205.5 L1080.0,206.0 L1081.0,206.5 L1082.0,207.0 L1083.0,207.4 L1084.0,207.9 L1085.0,208.4 L1086.0,208.9 L1087.0,209.3 L1088.0,209.8 L1089.0,210.3 L1090.0,210.7 L1091.0,211.2 L1092.0,211.7 L1093.0,212.1 L1094.0,212.6 L1095.0,213.1 L1096.0,213.5 L1097.0,214.0 L1098.0,214.5 L1099.0,214.9 L1100.0,215.4 L1101.0,215.9 L1102.0,216.3 L1103.0,216.8 L1104.0,217.3 L1105.0,217.7 L1106.0,218.2 L1107.0,218.6 L1108.0,219.1 L1109.0,219.6 L1110.0,220.0 L1111.0,220.5 L1112.0,220.9 L1113.0,221.4 L1114.0,221.9 L1115.0,222.3 L1116.0,222.8 L1117.0,223.2 L1118.0,223.7 L1119.0,224.1 L1120.0,224.6 L1121.0,225.1 L1122.0,225.5 L1123.0,226.0 L1124.0,226.4 L1125.0,226.9 L1126.0,227.4 L1127.0,227.8 L1128.0,228.3 L1129.0,228.7 L1130.0,229.2 L1131.0,229.6 L1132.0,230.1 L1133.0,230.6 L1134.0,231.0 L1135.0,231.5 L1136.0,232.0 L1137.0,232.4 L1138.0,232.9 L1139.0,233.3 L1140.0,233.8 L1141.0,234.3 L1142.0,234.7 L1143.0,235.2 L1144.0,235.7 L1145.0,236.1 L1146.0,236.6 L1147.0,237.1 L1148.0,237.5 L1149.0,238.0 L1150.0,238.5 L1151.0,238.9 L1152.0,239.4 L1153.0,239.9 L1154.0,240.4 L1155.0,240.8 L1156.0,241.3 L1157.0,241.8 L1158.0,242.2 L1159.0,242.7 L1160.0,243.2 L1161.0,243.7 L1162.0,244.1 L1163.0,244.6 L1164.0,245.1 L1165.0,245.6 L1166.0,246.0 L1167.0,246.5 L1168.0,247.0 L1169.0,247.5 L1170.0,247.9 L1171.0,248.4 L1172.0,248.9 L1173.0,249.4 L1174.0,249.8 L1175.0,250.3 L1176.0,250.8 L1177.0,251.3 L1178.0,251.7 L1179.0,252.2 L1180.0,252.7 L1181.0,253.2 L1182.0,253.6 L1183.0,254.1 L1184.0,254.6 L1185.0,255.1 L1186.0,255.5 L1187.0,256.0 L1188.0,256.5 L1189.0,257.0 L1190.0,257.4 L1191.0,257.9 L1192.0,258.4 L1193.0,258.9 L1194.0,259.3 L1195.0,259.8 L1196.0,260.3 L1197.0,260.7 L1198.0,261.2 L1199.0,261.7 L1200.0,262.1 L1201.0,262.6 L1202.0,263.1 L1203.0,263.5 L1204.0,264.0 L1205.0,264.5 L1206.0,264.9 L1207.0,265.4 L1208.0,265.9 L1209.0,266.3 L1210.0,266.8 L1211.0,267.3 L1212.0,267.7 L1213.0,268.2 L1214.0,268.6 L1215.0,269.1 L1216.0,269.5 L1217.0,270.0 L1218.0,270.5 L1219.0,270.9 L1220.0,271.4 L1221.0,271.8 L1222.0,272.3 L1223.0,272.7 L1224.0,273.2 L1225.0,273.6 L1226.0,274.1 L1227.0,274.5 L1228.0,275.0 L1229.0,275.4 L1230.0,275.9 L1231.0,276.3 L1232.0,276.8 L1233.0,277.2 L1234.0,277.6 L1235.0,278.1 L1236.0,278.5 L1237.0,279.0 L1238.0,279.4 L1239.0,279.9 L1240.0,280.3 L1241.0,280.7 L1242.0,281.2 L1243.0,281.6 L1244.0,282.1 L1245.0,282.5 L1246.0,283.0 L1247.0,283.4 L1248.0,283.8 L1249.0,284.3 L1250.0,284.7 L1251.0,285.1 L1252.0,285.6 L1253.0,286.0 L1254.0,286.5 L1255.0,286.9 L1256.0,287.3 L1257.0,287.8 L1258.0,288.2 L1259.0,288.6 L1260.0,289.1 L1261.0,289.5 L1262.0,289.9 L1263.0,290.4 L1264.0,290.8 L1265.0,291.2 L1266.0,291.7 L1267.0,292.1 L1268.0,292.5 L1269.0,293.0 L1270.0,293.4 L1271.0,293.8 L1272.0,294.3 L1273.0,294.7 L1274.0,295.1 L1275.0,295.6 L1276.0,296.0 L1277.0,296.4 L1278.0,296.9 L1279.0,297.3 L1280.0,297.7 L1281.0,298.1 L1282.0,298.6 L1283.0,299.0 L1284.0,299.4 L1285.0,299.9 L1286.0,300.3 L1287.0,300.7 L1288.0,301.2 L1289.0,301.6 L1290.0,302.0 L1291.0,302.5 L1292.0,302.9 L1293.0,303.3 L1294.0,303.7 L1295.0,304.2 L1296.0,304.6 L1297.0,305.0 L1298.0,305.5 L1299.0,305.9 L1300.0,306.3 L1301.0,306.8 L1302.0,307.2 L1303.0,307.6 L1304.0,308.0 L1305.0,308.5 L1306.0,308.9 L1307.0,309.3 L1308.0,309.8 L1309.0,310.2 L1310.0,310.6 L1311.0,311.0 L1312.0,311.5 L1313.0,311.9 L1314.0,312.3 L1315.0,312.7 L1316.0,313.2 L1317.0,313.6 L1318.0,314.0 L1319.0,314.4 L1320.0,314.9 L1321.0,315.3 L1322.0,315.7 L1323.0,316.1 L1324.0,316.6 L1325.0,317.0 L1326.0,317.4 L1327.0,317.8 L1328.0,318.2 L1329.0,318.7 L1330.0,319.1 L1331.0,319.5 L1332.0,319.9 L1333.0,320.3 L1334.0,320.8 L1335.0,321.2 L1336.0,321.6 L1337.0,322.0 L1338.0,322.4 L1339.0,322.8 L1340.0,323.3 L1341.0,323.7 L1342.0,324.1 L1343.0,324.5 L1344.0,324.9 L1345.0,325.3 L1346.0,325.7 L1347.0,326.1 L1348.0,326.6 L1349.0,327.0 L1350.0,327.4 L1351.0,327.8 L1352.0,328.2 L1353.0,328.6 L1354.0,329.0 L1355.0,329.4 L1356.0,329.8 L1357.0,330.2 L1358.0,330.6 L1359.0,331.0 L1360.0,331.4 L1361.0,331.8 L1362.0,332.2 L1363.0,332.6 L1364.0,333.0 L1365.0,333.4 L1366.0,333.8 L1367.0,334.2 L1368.0,334.6 L1369.0,335.0 L1370.0,335.4 L1371.0,335.8 L1372.0,336.2 L1373.0,336.6 L1374.0,337.0 L1375.0,337.4 L1376.0,337.8 L1377.0,338.2 L1378.0,338.6 L1379.0,338.9 L1380.0,339.3 L1381.0,339.7 L1382.0,340.2 L1383.0,340.6 L1384.0,341.0 L1385.0,341.4 L1386.0,341.8 L1387.0,342.2 L1388.0,342.6 L1389.0,343.0 L1390.0,343.4 L1391.0,343.8 L1392.0,344.2 L1393.0,344.7 L1394.0,345.1 L1395.0,345.5 L1396.0,345.9 L1397.0,346.3 L1398.0,346.7 L1399.0,347.1 L1400.0,347.5 L1401.0,347.9 L1402.0,348.3 L1403.0,348.7 L1404.0,349.1 L1405.0,349.5 L1406.0,349.9 L1407.0,350.3 L1408.0,350.7 L1409.0,351.2 L1410.0,351.6 L1411.0,352.0 L1412.0,352.4 L1413.0,352.8 L1414.0,353.2 L1415.0,353.6 L1416.0,354.0 L1417.0,354.4 L1418.0,354.8 L1419.0,355.2 L1420.0,355.6 L1421.0,356.0 L1422.0,356.5 L1423.0,356.9 L1424.0,357.3 L1425.0,357.7 L1426.0,358.1 L1427.0,358.5 L1428.0,358.9 L1429.0,359.3 L1430.0,359.7 L1431.0,360.1 L1432.0,360.5 L1433.0,361.0 L1434.0,361.4 L1435.0,361.8 L1436.0,362.2 L1437.0,362.6 L1438.0,363.0 L1439.0,363.4 L1440.0,363.8 L1441.0,364.2 L1442.0,364.6 L1443.0,365.0 L1444.0,365.5 L1445.0,365.9 L1446.0,366.3 L1447.0,366.7 L1448.0,367.1 L1449.0,367.5 L1450.0,367.9 L1451.0,368.3 L1452.0,368.7 L1453.0,369.1 L1454.0,369.5 L1455.0,369.9 L1456.0,370.4 L1457.0,370.8 L1458.0,371.2 L1459.0,371.6 L1460.0,372.0 L1461.0,372.4 L1462.0,372.8 L1463.0,373.2 L1464.0,373.6 L1465.0,374.0 L1466.0,374.4 L1467.0,374.8 L1468.0,375.2 L1469.0,375.6 L1470.0,376.0 L1471.0,376.5 L1472.0,376.9 L1473.0,377.3 L1474.0,377.7 L1475.0,378.1 L1476.0,378.5 L1477.0,378.9 L1478.0,379.3 L1479.0,379.7 L1480.0,380.1 L1481.0,380.5 L1482.0,380.9 L1483.0,381.3 L1484.0,381.7 L1485.0,382.1 L1486.0,382.5 L1487.0,382.9 L1488.0,383.4 L1489.0,383.8 L1490.0,384.2 L1491.0,384.6 L1492.0,385.0 L1493.0,385.4 L1494.0,385.8 L1495.0,386.2 L1496.0,386.6 L1497.0,387.0 L1498.0,387.4 L1499.0,387.8 L1500.0,388.2 L1501.0,388.6 L1502.0,389.0 L1503.0,389.4 L1504.0,389.8 L1505.0,390.2 L1506.0,390.6 L1507.0,391.0 L1508.0,391.4 L1509.0,391.8 L1510.0,392.2 L1511.0,392.6 L1512.0,393.0 L1513.0,393.4 L1514.0,393.8 L1515.0,394.2 L1516.0,394.6 L1517.0,395.0 L1518.0,395.4 L1519.0,395.8 L1520.0,396.2 L1521.0,396.6 L1522.0,397.0 L1523.0,397.4 L1524.0,397.8 L1525.0,398.2 L1526.0,398.6 L1527.0,399.0 L1528.0,399.4 L1529.0,399.8 L1530.0,400.2 L1531.0,400.6 L1532.0,401.0 L1533.0,401.4 L1534.0,401.8 L1535.0,402.2 L1536.0,402.6 L1537.0,403.0 L1538.0,403.4 L1539.0,403.8 L1540.0,404.2 L1541.0,404.6 L1542.0,405.0 L1543.0,405.3 L1544.0,405.7 L1545.0,406.1 L1546.0,406.4 L1547.0,406.8 L1548.0,407.2 L1549.0,407.6 L1550.0,407.9 L1551.0,408.3 L1552.0,408.7 L1553.0,409.1 L1554.0,409.4 L1555.0,409.8 L1556.0,410.2 L1557.0,410.6 L1558.0,410.9 L1559.0,411.3 L1560.0,411.7 L1561.0,412.1 L1562.0,412.4 L1563.0,412.8 L1564.0,413.2 L1565.0,413.6 L1566.0,413.9 L1567.0,414.3 L1568.0,414.7 L1569.0,415.1 L1570.0,415.4 L1571.0,415.8 L1572.0,416.2 L1573.0,416.6 L1574.0,416.9 L1575.0,417.3 L1576.0,417.7 L1577.0,418.1 L1578.0,418.4 L1579.0,418.8 L1580.0,419.2 L1581.0,419.6 L1582.0,419.9 L1583.0,420.3 L1584.0,420.7 L1585.0,421.1 L1586.0,421.4 L1587.0,421.8 L1588.0,422.2 L1589.0,422.6 L1590.0,423.0 L1591.0,423.3 L1592.0,423.7 L1593.0,424.1 L1594.0,424.5 L1595.0,424.8 L1596.0,425.2 L1597.0,425.6 L1598.0,426.0 L1599.0,426.3 L1600.0,426.7 L1601.0,427.1 L1602.0,427.5 L1603.0,427.8 L1604.0,428.2 L1605.0,428.6 L1606.0,429.0 L1607.0,429.3 L1608.0,429.7 L1609.0,430.1 L1610.0,430.5 L1611.0,430.8 L1612.0,431.2 L1613.0,431.6 L1614.0,432.0 L1615.0,432.3 L1616.0,432.7 L1617.0,433.1 L1618.0,433.5 L1619.0,433.8 L1620.0,434.2 L1621.0,434.6 L1622.0,435.0 L1623.0,435.3 L1624.0,435.7 L1625.0,436.1 L1626.0,436.5 L1627.0,436.8 L1628.0,437.2" fill="none" stroke="#00dc00" stroke-width="6.5" stroke-linejoin="round"/>
<circle cx="196.50" cy="506.20" r="14.25" fill="#00dc00"/>
<circle cx="265.00" cy="369.20" r="14.25" fill="#00dc00"/>
<circle cx="333.00" cy="312.60" r="14.25" fill="#00dc00"/>
<circle cx="401.50" cy="269.00" r="14.25" fill="#00dc00"/>
<circle cx="470.00" cy="230.00" r="14.25" fill="#00dc00"/>
<circle cx="538.00" cy="193.00" r="14.25" fill="#00dc00"/>
<circle cx="606.50" cy="158.80" r="14.25" fill="#00dc00"/>
<circle cx="675.00" cy="131.00" r="14.25" fill="#00dc00"/>
<circle cx="743.00" cy="112.95" r="14.25" fill="#00dc00"/>
<circle cx="807.00" cy="108.68" r="14.25" fill="#00dc00"/>
<circle cx="875.00" cy="120.00" r="14.25" fill="#00dc00"/>
<circle cx="944.00" cy="143.00" r="14.25" fill="#00dc00"/>
<circle cx="1012.00" cy="173.00" r="14.25" fill="#00dc00"/>
<circle cx="1080.00" cy="206.00" r="14.25" fill="#00dc00"/>
<circle cx="1149.00" cy="238.00" r="14.25" fill="#00dc00"/>
<circle cx="1217.00" cy="270.00" r="14.25" fill="#00dc00"/>
<circle cx="1286.00" cy="300.30" r="14.25" fill="#00dc00"/>
<circle cx="1354.00" cy="329.00" r="14.25" fill="#00dc00"/>
<circle cx="1423.00" cy="356.86" r="14.25" fill="#00dc00"/>
<circle cx="1491.00" cy="384.57" r="14.25" fill="#00dc00"/>
<circle cx="1559.50" cy="411.50" r="14.25" fill="#00dc00"/>
<circle cx="1628.00" cy="437.20" r="14.25" fill="#00dc00"/>
<path d="M197.0,117.1 L198.0,117.2 L199.0,117.3 L200.0,117.4 L201.0,117.5 L202.0,117.7 L203.0,117.8 L204.0,117.9 L205.0,118.1 L206.0,118.2 L207.0,118.3 L208.0,118.5 L209.0,118.6 L210.0,118.8 L211.0,118.9 L212.0,119.1 L213.0,119.2 L214.0,119.4 L215.0,119.6 L216.0,119.7 L217.0,119.9 L218.0,120.1 L219.0,120.2 L220.0,120.4 L221.0,120.6 L222.0,120.8 L223.0,120.9 L224.0,121.1 L225.0,121.3 L226.0,121.5 L227.0,121.7 L228.0,121.9 L229.0,122.1 L230.0,122.3 L231.0,122.5 L232.0,122.7 L233.0,122.9 L234.0,123.1 L235.0,123.3 L236.0,123.6 L237.0,123.8 L238.0,124.0 L239.0,124.2 L240.0,124.4 L241.0,124.7 L242.0,124.9 L243.0,125.1 L244.0,125.3 L245.0,125.6 L246.0,125.8 L247.0,126.0 L248.0,126.3 L249.0,126.5 L250.0,126.7 L251.0,126.9 L252.0,127.2 L253.0,127.4 L254.0,127.6 L255.0,127.9 L256.0,128.1 L257.0,128.3 L258.0,128.5 L259.0,128.7 L260.0,129.0 L261.0,129.2 L262.0,129.4 L263.0,129.6 L264.0,129.8 L265.0,130.0 L266.0,130.2 L267.0,130.4 L268.0,130.6 L269.0,130.8 L270.0,131.0 L271.0,131.2 L272.0,131.4 L273.0,131.6 L274.0,131.8 L275.0,132.0 L276.0,132.2 L277.0,132.4 L278.0,132.5 L279.0,132.7 L280.0,132.9 L281.0,133.1 L282.0,133.3 L283.0,133.5 L284.0,133.7 L285.0,133.9 L286.0,134.1 L287.0,134.3 L288.0,134.5 L289.0,134.7 L290.0,134.8 L291.0,135.0 L292.0,135.2 L293.0,135.4 L294.0,135.6 L295.0,135.8 L296.0,136.0 L297.0,136.2 L298.0,136.3 L299.0,136.5 L300.0,136.7 L301.0,136.9 L302.0,137.1 L303.0,137.3 L304.0,137.5 L305.0,137.6 L306.0,137.8 L307.0,138.0 L308.0,138.2 L309.0,138.4 L310.0,138.6 L311.0,138.8 L312.0,138.9 L313.0,139.1 L314.0,139.3 L315.0,139.5 L316.0,139.7 L317.0,139.9 L318.0,140.1 L319.0,140.3 L320.0,140.4 L321.0,140.6 L322.0,140.8 L323.0,141.0 L324.0,141.2 L325.0,141.4 L326.0,141.6 L327.0,141.8 L328.0,142.0 L329.0,142.2 L330.0,142.4 L331.0,142.6 L332.0,142.8 L333.0,143.0 L334.0,143.2 L335.0,143.4 L336.0,143.6 L337.0,143.8 L338.0,144.0 L339.0,144.2 L340.0,144.4 L341.0,144.7 L342.0,144.9 L343.0,145.1 L344.0,145.3 L345.0,145.5 L346.0,145.7 L347.0,145.9 L348.0,146.1 L349.0,146.3 L350.0,146.5 L351.0,146.7 L352.0,146.9 L353.0,147.1 L354.0,147.3 L355.0,147.6 L356.0,147.8 L357.0,148.0 L358.0,148.2 L359.0,148.4 L360.0,148.6 L361.0,148.8 L362.0,149.0 L363.0,149.2 L364.0,149.4 L365.0,149.6 L366.0,149.9 L367.0,150.1 L368.0,150.3 L369.0,150.5 L370.0,150.7 L371.0,150.9 L372.0,151.1 L373.0,151.4 L374.0,151.6 L375.0,151.8 L376.0,152.0 L377.0,152.2 L378.0,152.4 L379.0,152.7 L380.0,152.9 L381.0,153.1 L382.0,153.3 L383.0,153.6 L384.0,153.8 L385.0,154.0 L386.0,154.2 L387.0,154.5 L388.0,154.7 L389.0,154.9 L390.0,155.2 L391.0,155.4 L392.0,155.6 L393.0,155.9 L394.0,156.1 L395.0,156.4 L396.0,156.6 L397.0,156.9 L398.0,157.1 L399.0,157.4 L400.0,157.6 L401.0,157.9 L402.0,158.1 L403.0,158.4 L404.0,158.6 L405.0,158.9 L406.0,159.2 L407.0,159.4 L408.0,159.7 L409.0,160.0 L410.0,160.2 L411.0,160.5 L412.0,160.8 L413.0,161.0 L414.0,161.3 L415.0,161.6 L416.0,161.9 L417.0,162.1 L418.0,162.4 L419.0,162.7 L420.0,163.0 L421.0,163.2 L422.0,163.5 L423.0,163.8 L424.0,164.1 L425.0,164.4 L426.0,164.7 L427.0,165.0 L428.0,165.2 L429.0,165.5 L430.0,165.8 L431.0,166.1 L432.0,166.4 L433.0,166.7 L434.0,167.0 L435.0,167.3 L436.0,167.6 L437.0,167.9 L438.0,168.2 L439.0,168.5 L440.0,168.8 L441.0,169.1 L442.0,169.5 L443.0,169.8 L444.0,170.1 L445.0,170.4 L446.0,170.7 L447.0,171.0 L448.0,171.4 L449.0,171.7 L450.0,172.0 L451.0,172.3 L452.0,172.7 L453.0,173.0 L454.0,173.3 L455.0,173.7 L456.0,174.0 L457.0,174.4 L458.0,174.7 L459.0,175.0 L460.0,175.4 L461.0,175.7 L462.0,176.1 L463.0,176.5 L464.0,176.8 L465.0,177.2 L466.0,177.5 L467.0,177.9 L468.0,178.3 L469.0,178.6 L470.0,179.0 L471.0,179.4 L472.0,179.8 L473.0,180.1 L474.0,180.5 L475.0,180.9 L476.0,181.3 L477.0,181.7 L478.0,182.0 L479.0,182.4 L480.0,182.8 L481.0,183.2 L482.0,183.6 L483.0,184.0 L484.0,184.4 L485.0,184.8 L486.0,185.2 L487.0,185.6 L488.0,186.0 L489.0,186.5 L490.0,186.9 L491.0,187.3 L492.0,187.7 L493.0,188.1 L494.0,188.6 L495.0,189.0 L496.0,189.4 L497.0,189.8 L498.0,190.3 L499.0,190.7 L500.0,191.2 L501.0,191.6 L502.0,192.0 L503.0,192.5 L504.0,192.9 L505.0,193.4 L506.0,193.9 L507.0,194.3 L508.0,194.8 L509.0,195.3 L510.0,195.7 L511.0,196.2 L512.0,196.7 L513.0,197.2 L514.0,197.6 L515.0,198.1 L516.0,198.6 L517.0,199.1 L518.0,199.6 L519.0,200.1 L520.0,200.6 L521.0,201.1 L522.0,201.7 L523.0,202.2 L524.0,202.7 L525.0,203.2 L526.0,203.8 L527.0,204.3 L528.0,204.8 L529.0,205.4 L530.0,205.9 L531.0,206.5 L532.0,207.0 L533.0,207.6 L534.0,208.2 L535.0,208.7 L536.0,209.3 L537.0,209.9 L538.0,210.5 L539.0,211.1 L540.0,211.7 L541.0,212.3 L542.0,212.9 L543.0,213.5 L544.0,214.1 L545.0,214.8 L546.0,215.4 L547.0,216.0 L548.0,216.7 L549.0,217.3 L550.0,218.0 L551.0,218.6 L552.0,219.3 L553.0,220.0 L554.0,220.6 L555.0,221.3 L556.0,222.0 L557.0,222.7 L558.0,223.4 L559.0,224.1 L560.0,224.8 L561.0,225.5 L562.0,226.2 L563.0,227.0 L564.0,227.7 L565.0,228.4 L566.0,229.2 L567.0,229.9 L568.0,230.7 L569.0,231.5 L570.0,232.2 L571.0,233.0 L572.0,233.8 L573.0,234.6 L574.0,235.4 L575.0,236.2 L576.0,237.0 L577.0,237.8 L578.0,238.6 L579.0,239.4 L580.0,240.3 L581.0,241.1 L582.0,242.0 L583.0,242.8 L584.0,243.7 L585.0,244.6 L586.0,245.4 L587.0,246.3 L588.0,247.2 L589.0,248.1 L590.0,249.0 L591.0,249.9 L592.0,250.8 L593.0,251.8 L594.0,252.7 L595.0,253.6 L596.0,254.6 L597.0,255.5 L598.0,256.5 L599.0,257.5 L600.0,258.5 L601.0,259.4 L602.0,260.4 L603.0,261.4 L604.0,262.4 L605.0,263.5 L606.0,264.5 L607.0,265.5 L608.0,266.6 L609.0,267.6 L610.0,268.7 L611.0,269.7 L612.0,270.8 L613.0,271.9 L614.0,273.0 L615.0,274.1 L616.0,275.2 L617.0,276.3 L618.0,277.4 L619.0,278.6 L620.0,279.7 L621.0,280.9 L622.0,282.0 L623.0,283.2 L624.0,284.4 L625.0,285.6 L626.0,286.8 L627.0,288.0 L628.0,289.2 L629.0,290.4 L630.0,291.7 L631.0,292.9 L632.0,294.2 L633.0,295.5 L634.0,296.8 L635.0,298.1 L636.0,299.4 L637.0,300.7 L638.0,302.1 L639.0,303.4 L640.0,304.8 L641.0,306.1 L642.0,307.5 L643.0,308.9 L644.0,310.3 L645.0,311.8 L646.0,313.2 L647.0,314.7 L648.0,316.1 L649.0,317.6 L650.0,319.1 L651.0,320.6 L652.0,322.1 L653.0,323.7 L654.0,325.2 L655.0,326.8 L656.0,328.4 L657.0,330.0 L658.0,331.6 L659.0,333.3 L660.0,334.9 L661.0,336.6 L662.0,338.3 L663.0,340.0 L664.0,341.7 L665.0,343.4 L666.0,345.2 L667.0,347.0 L668.0,348.8 L669.0,350.6 L670.0,352.5 L671.0,354.3 L672.0,356.2 L673.0,358.1 L674.0,360.0 L675.0,362.0 L676.0,364.0 L677.0,366.0 L678.0,368.0 L679.0,370.0 L680.0,372.1 L681.0,374.2 L682.0,376.3 L683.0,378.4 L684.0,380.6 L685.0,382.8 L686.0,385.0 L687.0,387.2 L688.0,389.5 L689.0,391.8 L690.0,394.1 L691.0,396.5 L692.0,398.9 L693.0,401.3 L694.0,403.7 L695.0,406.2 L696.0,408.7 L697.0,411.2 L698.0,413.8 L699.0,416.4 L700.0,419.0 L701.0,421.7 L702.0,424.4 L703.0,427.1 L704.0,429.9 L705.0,432.7 L706.0,435.5 L707.0,438.4 L708.0,441.3 L709.0,444.3 L710.0,447.3 L711.0,450.3 L712.0,453.4 L713.0,456.6 L714.0,459.7 L715.0,463.0 L716.0,466.2 L717.0,469.6 L718.0,472.9 L719.0,476.4 L720.0,479.8 L721.0,483.4 L722.0,486.9 L723.0,490.6 L724.0,494.3 L725.0,498.0 L726.0,501.8 L727.0,505.7 L728.0,509.7 L729.0,513.7 L730.0,517.7 L731.0,521.9 L732.0,526.1 L733.0,530.4 L734.0,534.8 L735.0,539.2 L736.0,543.8 L737.0,548.4 L738.0,553.1 L739.0,557.9 L740.0,562.7 L741.0,567.7 L742.0,572.8 L743.0,578.0 L744.0,583.3 L749.2,612.7 L754.1,643.8 L759.0,678.9 L763.9,719.3 L768.8,766.3 L773.7,822.4 L778.6,890.3 L783.5,971.5 L788.4,1058.5 L793.3,1072.3 L798.2,1003.0 L803.1,918.2 L808.0,845.2 L812.9,785.1 L817.8,735.0 L822.7,692.4 L827.6,655.6 L832.5,623.2 L837.4,594.5 L838.4,589.0 L839.4,583.6 L840.4,578.4 L841.4,573.2 L842.4,568.2 L843.4,563.2 L844.4,558.4 L845.4,553.6 L846.4,549.0 L847.4,544.4 L848.4,539.9 L849.4,535.5 L850.4,531.2 L851.4,527.0 L852.4,522.8 L853.4,518.7 L854.4,514.7 L855.4,510.7 L856.4,506.9 L857.4,503.0 L858.4,499.3 L859.4,495.6 L860.4,491.9 L861.4,488.4 L862.4,484.8 L863.4,481.4 L864.4,478.0 L865.4,474.6 L866.4,471.3 L867.4,468.0 L868.4,464.8 L869.4,461.7 L870.4,458.6 L871.4,455.5 L872.4,452.5 L873.4,449.5 L874.4,446.5 L875.4,443.6 L876.4,440.8 L877.4,438.0 L878.4,435.2 L879.4,432.5 L880.4,429.8 L881.4,427.1 L882.4,424.5 L883.4,421.9 L884.4,419.3 L885.4,416.8 L886.4,414.3 L887.4,411.8 L888.4,409.4 L889.4,407.0 L890.4,404.6 L891.4,402.3 L892.4,400.0 L893.4,397.7 L894.4,395.4 L895.4,393.2 L896.4,391.0 L897.4,388.8 L898.4,386.7 L899.4,384.5 L900.4,382.4 L901.4,380.4 L902.4,378.3 L903.4,376.3 L904.4,374.3 L905.4,372.3 L906.4,370.3 L907.4,368.4 L908.4,366.4 L909.4,364.5 L910.4,362.7 L911.4,360.8 L912.4,359.0 L913.4,357.1 L914.4,355.3 L915.4,353.6 L916.4,351.8 L917.4,350.0 L918.4,348.3 L919.4,346.6 L920.4,344.9 L921.4,343.2 L922.4,341.6 L923.4,339.9 L924.4,338.3 L925.4,336.7 L926.4,335.1 L927.4,333.5 L928.4,331.9 L929.4,330.4 L930.4,328.8 L931.4,327.3 L932.4,325.8 L933.4,324.3 L934.4,322.8 L935.4,321.4 L936.4,319.9 L937.4,318.5 L938.4,317.1 L939.4,315.6 L940.4,314.2 L941.4,312.9 L942.4,311.5 L943.4,310.1 L944.4,308.8 L945.4,307.4 L946.4,306.1 L947.4,304.8 L948.4,303.5 L949.4,302.2 L950.4,300.9 L951.4,299.6 L952.4,298.4 L953.4,297.1 L954.4,295.9 L955.4,294.7 L956.4,293.4 L957.4,292.2 L958.4,291.0 L959.4,289.9 L960.4,288.7 L961.4,287.5 L962.4,286.4 L963.4,285.2 L964.4,284.1 L965.4,283.0 L966.4,281.9 L967.4,280.8 L968.4,279.7 L969.4,278.6 L970.4,277.5 L971.4,276.4 L972.4,275.4 L973.4,274.3 L974.4,273.3 L975.4,272.3 L976.4,271.3 L977.4,270.2 L978.4,269.2 L979.4,268.2 L980.4,267.3 L981.4,266.3 L982.4,265.3 L983.4,264.3 L984.4,263.4 L985.4,262.4 L986.4,261.5 L987.4,260.6 L988.4,259.7 L989.4,258.7 L990.4,257.8 L991.4,256.9 L992.4,256.1 L993.4,255.2 L994.4,254.3 L995.4,253.4 L996.4,252.6 L997.4,251.7 L998.4,250.9 L999.4,250.0 L1000.4,249.2 L1001.4,248.4 L1002.4,247.5 L1003.4,246.7 L1004.4,245.9 L1005.4,245.1 L1006.4,244.3 L1007.4,243.5 L1008.4,242.8 L1009.4,242.0 L1010.4,241.2 L1011.4,240.5 L1012.4,239.7 L1013.4,239.0 L1014.4,238.2 L1015.4,237.5 L1016.4,236.7 L1017.4,236.0 L1018.4,235.3 L1019.4,234.6 L1020.4,233.9 L1021.4,233.2 L1022.4,232.5 L1023.4,231.8 L1024.4,231.1 L1025.4,230.4 L1026.4,229.8 L1027.4,229.1 L1028.4,228.4 L1029.4,227.8 L1030.4,227.1 L1031.4,226.5 L1032.4,225.8 L1033.4,225.2 L1034.4,224.6 L1035.4,224.0 L1036.4,223.3 L1037.4,222.7 L1038.4,222.1 L1039.4,221.5 L1040.4,220.9 L1041.4,220.3 L1042.4,219.7 L1043.4,219.1 L1044.4,218.5 L1045.4,217.9 L1046.4,217.4 L1047.4,216.8 L1048.4,216.2 L1049.4,215.6 L1050.4,215.1 L1051.4,214.5 L1052.4,214.0 L1053.4,213.4 L1054.4,212.9 L1055.4,212.3 L1056.4,211.8 L1057.4,211.3 L1058.4,210.7 L1059.4,210.2 L1060.4,209.7 L1061.4,209.1 L1062.4,208.6 L1063.4,208.1 L1064.4,207.6 L1065.4,207.1 L1066.4,206.6 L1067.4,206.1 L1068.4,205.6 L1069.4,205.1 L1070.4,204.6 L1071.4,204.1 L1072.4,203.6 L1073.4,203.1 L1074.4,202.6 L1075.4,202.2 L1076.4,201.7 L1077.4,201.2 L1078.4,200.7 L1079.4,200.3 L1080.4,199.8 L1081.4,199.4 L1082.4,198.9 L1083.4,198.4 L1084.4,198.0 L1085.4,197.5 L1086.4,197.1 L1087.4,196.6 L1088.4,196.2 L1089.4,195.7 L1090.4,195.3 L1091.4,194.9 L1092.4,194.4 L1093.4,194.0 L1094.4,193.6 L1095.4,193.2 L1096.4,192.7 L1097.4,192.3 L1098.4,191.9 L1099.4,191.5 L1100.4,191.1 L1101.4,190.7 L1102.4,190.2 L1103.4,189.8 L1104.4,189.4 L1105.4,189.0 L1106.4,188.6 L1107.4,188.2 L1108.4,187.9 L1109.4,187.5 L1110.4,187.1 L1111.4,186.7 L1112.4,186.3 L1113.4,185.9 L1114.4,185.6 L1115.4,185.2 L1116.4,184.8 L1117.4,184.4 L1118.4,184.1 L1119.4,183.7 L1120.4,183.3 L1121.4,183.0 L1122.4,182.6 L1123.4,182.3 L1124.4,181.9 L1125.4,181.6 L1126.4,181.2 L1127.4,180.9 L1128.4,180.5 L1129.4,180.2 L1130.4,179.9 L1131.4,179.5 L1132.4,179.2 L1133.4,178.9 L1134.4,178.5 L1135.4,178.2 L1136.4,177.9 L1137.4,177.6 L1138.4,177.2 L1139.4,176.9 L1140.4,176.6 L1141.4,176.3 L1142.4,176.0 L1143.4,175.7 L1144.4,175.4 L1145.4,175.1 L1146.4,174.8 L1147.4,174.5 L1148.4,174.2 L1149.4,173.9 L1150.4,173.6 L1151.4,173.3 L1152.4,173.0 L1153.4,172.7 L1154.4,172.4 L1155.4,172.2 L1156.4,171.9 L1157.4,171.6 L1158.4,171.3 L1159.4,171.1 L1160.4,170.8 L1161.4,170.5 L1162.4,170.2 L1163.4,170.0 L1164.4,169.7 L1165.4,169.5 L1166.4,169.2 L1167.4,168.9 L1168.4,168.7 L1169.4,168.4 L1170.4,168.2 L1171.4,167.9 L1172.4,167.7 L1173.4,167.4 L1174.4,167.2 L1175.4,166.9 L1176.4,166.7 L1177.4,166.4 L1178.4,166.2 L1179.4,166.0 L1180.4,165.7 L1181.4,165.5 L1182.4,165.2 L1183.4,165.0 L1184.4,164.8 L1185.4,164.5 L1186.4,164.3 L1187.4,164.1 L1188.4,163.9 L1189.4,163.6 L1190.4,163.4 L1191.4,163.2 L1192.4,163.0 L1193.4,162.7 L1194.4,162.5 L1195.4,162.3 L1196.4,162.1 L1197.4,161.9 L1198.4,161.6 L1199.4,161.4 L1200.4,161.2 L1201.4,161.0 L1202.4,160.8 L1203.4,160.6 L1204.4,160.4 L1205.4,160.2 L1206.4,159.9 L1207.4,159.7 L1208.4,159.5 L1209.4,159.3 L1210.4,159.1 L1211.4,158.9 L1212.4,158.7 L1213.4,158.5 L1214.4,158.3 L1215.4,158.1 L1216.4,157.9 L1217.4,157.7 L1218.4,157.5 L1219.4,157.3 L1220.4,157.1 L1221.4,156.9 L1222.4,156.7 L1223.4,156.6 L1224.4,156.4 L1225.4,156.2 L1226.4,156.0 L1227.4,155.8 L1228.4,155.6 L1229.4,155.4 L1230.4,155.2 L1231.4,155.1 L1232.4,154.9 L1233.4,154.7 L1234.4,154.5 L1235.4,154.3 L1236.4,154.2 L1237.4,154.0 L1238.4,153.8 L1239.4,153.6 L1240.4,153.5 L1241.4,153.3 L1242.4,153.1 L1243.4,152.9 L1244.4,152.8 L1245.4,152.6 L1246.4,152.4 L1247.4,152.3 L1248.4,152.1 L1249.4,151.9 L1250.4,151.8 L1251.4,151.6 L1252.4,151.4 L1253.4,151.3 L1254.4,151.1 L1255.4,150.9 L1256.4,150.8 L1257.4,150.6 L1258.4,150.4 L1259.4,150.3 L1260.4,150.1 L1261.4,150.0 L1262.4,149.8 L1263.4,149.7 L1264.4,149.5 L1265.4,149.3 L1266.4,149.2 L1267.4,149.0 L1268.4,148.9 L1269.4,148.7 L1270.4,148.6 L1271.4,148.4 L1272.4,148.3 L1273.4,148.1 L1274.4,148.0 L1275.4,147.8 L1276.4,147.7 L1277.4,147.5 L1278.4,147.4 L1279.4,147.2 L1280.4,147.1 L1281.4,147.0 L1282.4,146.8 L1283.4,146.7 L1284.4,146.5 L1285.4,146.4 L1286.4,146.2 L1287.4,146.1 L1288.4,146.0 L1289.4,145.8 L1290.4,145.7 L1291.4,145.5 L1292.4,145.4 L1293.4,145.3 L1294.4,145.1 L1295.4,145.0 L1296.4,144.8 L1297.4,144.7 L1298.4,144.6 L1299.4,144.4 L1300.4,144.3 L1301.4,144.2 L1302.4,144.0 L1303.4,143.9 L1304.4,143.8 L1305.4,143.6 L1306.4,143.5 L1307.4,143.4 L1308.4,143.2 L1309.4,143.1 L1310.4,143.0 L1311.4,142.8 L1312.4,142.7 L1313.4,142.6 L1314.4,142.5 L1315.4,142.3 L1316.4,142.2 L1317.4,142.1 L1318.4,142.0 L1319.4,141.8 L1320.4,141.7 L1321.4,141.6 L1322.4,141.5 L1323.4,141.3 L1324.4,141.2 L1325.4,141.1 L1326.4,141.0 L1327.4,140.9 L1328.4,140.7 L1329.4,140.6 L1330.4,140.5 L1331.4,140.4 L1332.4,140.3 L1333.4,140.2 L1334.4,140.1 L1335.4,139.9 L1336.4,139.8 L1337.4,139.7 L1338.4,139.6 L1339.4,139.5 L1340.4,139.4 L1341.4,139.3 L1342.4,139.2 L1343.4,139.1 L1344.4,139.0 L1345.4,138.9 L1346.4,138.8 L1347.4,138.7 L1348.4,138.6 L1349.4,138.5 L1350.4,138.4 L1351.4,138.3 L1352.4,138.2 L1353.4,138.1 L1354.4,138.0 L1355.4,137.9 L1356.4,137.8 L1357.4,137.7 L1358.4,137.6 L1359.4,137.5 L1360.4,137.4 L1361.4,137.3 L1362.4,137.2 L1363.4,137.1 L1364.4,137.0 L1365.4,136.9 L1366.4,136.9 L1367.4,136.8 L1368.4,136.7 L1369.4,136.6 L1370.4,136.5 L1371.4,136.4 L1372.4,136.3 L1373.4,136.3 L1374.4,136.2 L1375.4,136.1 L1376.4,136.0 L1377.4,135.9 L1378.4,135.8 L1379.4,135.8 L1380.4,135.7 L1381.4,135.6 L1382.4,135.5 L1383.4,135.4 L1384.4,135.4 L1385.4,135.3 L1386.4,135.2 L1387.4,135.1 L1388.4,135.1 L1389.4,135.0 L1390.4,134.9 L1391.4,134.8 L1392.4,134.8 L1393.4,134.7 L1394.4,134.6 L1395.4,134.5 L1396.4,134.4 L1397.4,134.4 L1398.4,134.3 L1399.4,134.2 L1400.4,134.2 L1401.4,134.1 L1402.4,134.0 L1403.4,133.9 L1404.4,133.9 L1405.4,133.8 L1406.4,133.7 L1407.4,133.6 L1408.4,133.6 L1409.4,133.5 L1410.4,133.4 L1411.4,133.3 L1412.4,133.3 L1413.4,133.2 L1414.4,133.1 L1415.4,133.1 L1416.4,133.0 L1417.4,132.9 L1418.4,132.8 L1419.4,132.8 L1420.4,132.7 L1421.4,132.6 L1422.4,132.5 L1423.4,132.5 L1424.4,132.4 L1425.4,132.3 L1426.4,132.3 L1427.4,132.2 L1428.4,132.1 L1429.4,132.0 L1430.4,132.0 L1431.4,131.9 L1432.4,131.8 L1433.4,131.8 L1434.4,131.7 L1435.4,131.6 L1436.4,131.5 L1437.4,131.5 L1438.4,131.4 L1439.4,131.3 L1440.4,131.3 L1441.4,131.2 L1442.4,131.1 L1443.4,131.0 L1444.4,131.0 L1445.4,130.9 L1446.4,130.8 L1447.4,130.8 L1448.4,130.7 L1449.4,130.6 L1450.4,130.6 L1451.4,130.5 L1452.4,130.4 L1453.4,130.4 L1454.4,130.3 L1455.4,130.2 L1456.4,130.2 L1457.4,130.1 L1458.4,130.0 L1459.4,130.0 L1460.4,129.9 L1461.4,129.8 L1462.4,129.8 L1463.4,129.7 L1464.4,129.6 L1465.4,129.6 L1466.4,129.5 L1467.4,129.4 L1468.4,129.4 L1469.4,129.3 L1470.4,129.3 L1471.4,129.2 L1472.4,129.1 L1473.4,129.1 L1474.4,129.0 L1475.4,128.9 L1476.4,128.9 L1477.4,128.8 L1478.4,128.8 L1479.4,128.7 L1480.4,128.6 L1481.4,128.6 L1482.4,128.5 L1483.4,128.4 L1484.4,128.4 L1485.4,128.3 L1486.4,128.3 L1487.4,128.2 L1488.4,128.2 L1489.4,128.1 L1490.4,128.0 L1491.4,128.0 L1492.4,127.9 L1493.4,127.9 L1494.4,127.8 L1495.4,127.7 L1496.4,127.7 L1497.4,127.6 L1498.4,127.6 L1499.4,127.5 L1500.4,127.5 L1501.4,127.4 L1502.4,127.4 L1503.4,127.3 L1504.4,127.2 L1505.4,127.2 L1506.4,127.1 L1507.4,127.1 L1508.4,127.0 L1509.4,127.0 L1510.4,126.9 L1511.4,126.9 L1512.4,126.8 L1513.4,126.8 L1514.4,126.7 L1515.4,126.6 L1516.4,126.6 L1517.4,126.5 L1518.4,126.5 L1519.4,126.4 L1520.4,126.4 L1521.4,126.3 L1522.4,126.3 L1523.4,126.2 L1524.4,126.2 L1525.4,126.1 L1526.4,126.1 L1527.4,126.0 L1528.4,126.0 L1529.4,125.9 L1530.4,125.9 L1531.4,125.8 L1532.4,125.8 L1533.4,125.7 L1534.4,125.7 L1535.4,125.6 L1536.4,125.6 L1537.4,125.5 L1538.4,125.5 L1539.4,125.4 L1540.4,125.4 L1541.4,125.3 L1542.4,125.3 L1543.4,125.2 L1544.4,125.2 L1545.4,125.1 L1546.4,125.1 L1547.4,125.1 L1548.4,125.0 L1549.4,125.0 L1550.4,124.9 L1551.4,124.9 L1552.4,124.8 L1553.4,124.8 L1554.4,124.7 L1555.4,124.7 L1556.4,124.6 L1557.4,124.6 L1558.4,124.5 L1559.4,124.5 L1560.4,124.5 L1561.4,124.4 L1562.4,124.4 L1563.4,124.3 L1564.4,124.3 L1565.4,124.2 L1566.4,124.2 L1567.4,124.2 L1568.4,124.1 L1569.4,124.1 L1570.4,124.0 L1571.4,124.0 L1572.4,123.9 L1573.4,123.9 L1574.4,123.9 L1575.4,123.8 L1576.4,123.8 L1577.4,123.7 L1578.4,123.7 L1579.4,123.6 L1580.4,123.6 L1581.4,123.6 L1582.4,123.5 L1583.4,123.5 L1584.4,123.4 L1585.4,123.4 L1586.4,123.4 L1587.4,123.3 L1588.4,123.3 L1589.4,123.2 L1590.4,123.2 L1591.4,123.2 L1592.4,123.1 L1593.4,123.1 L1594.4,123.0 L1595.4,123.0 L1596.4,123.0 L1597.4,122.9 L1598.4,122.9 L1599.4,122.8 L1600.4,122.8 L1601.4,122.8 L1602.4,122.7 L1603.4,122.7 L1604.4,122.7 L1605.4,122.6 L1606.4,122.6 L1607.4,122.5 L1608.4,122.5 L1609.4,122.5 L1610.4,122.4 L1611.4,122.4 L1612.4,122.4 L1613.4,122.3 L1614.4,122.3 L1615.4,122.2 L1616.4,122.2 L1617.4,122.2 L1618.4,122.1 L1619.4,122.1 L1620.4,122.1 L1621.4,122.0 L1622.4,122.0 L1623.4,122.0 L1624.4,121.9 L1625.4,121.9 L1626.4,121.9 L1627.4,121.8" fill="none" stroke="#000" stroke-width="6.5" stroke-linejoin="round"/>
<polygon points="194.50,97.20 198.50,97.20 213.50,124.40 213.50,127.00 179.50,127.00 179.50,124.40" fill="#000"/>
<polygon points="263.00,110.20 267.00,110.20 282.00,137.40 282.00,140.00 248.00,140.00 248.00,137.40" fill="#000"/>
<polygon points="331.00,123.20 335.00,123.20 350.00,150.40 350.00,153.00 316.00,153.00 316.00,150.40" fill="#000"/>
<polygon points="399.50,138.20 403.50,138.20 418.50,165.40 418.50,168.00 384.50,168.00 384.50,165.40" fill="#000"/>
<polygon points="468.00,159.20 472.00,159.20 487.00,186.40 487.00,189.00 453.00,189.00 453.00,186.40" fill="#000"/>
<polygon points="536.00,190.70 540.00,190.70 555.00,217.90 555.00,220.50 521.00,220.50 521.00,217.90" fill="#000"/>
<polygon points="604.50,245.20 608.50,245.20 623.50,272.40 623.50,275.00 589.50,275.00 589.50,272.40" fill="#000"/>
<polygon points="673.00,342.20 677.00,342.20 692.00,369.40 692.00,372.00 658.00,372.00 658.00,369.40" fill="#000"/>
<polygon points="741.00,558.20 745.00,558.20 760.00,585.40 760.00,588.00 726.00,588.00 726.00,585.40" fill="#000"/>
<polygon points="805.00,839.20 809.00,839.20 824.00,866.40 824.00,869.00 790.00,869.00 790.00,866.40" fill="#000"/>
<polygon points="873.00,425.00 877.00,425.00 892.00,452.20 892.00,454.80 858.00,454.80 858.00,452.20" fill="#000"/>
<polygon points="942.00,289.50 946.00,289.50 961.00,316.70 961.00,319.30 927.00,319.30 927.00,316.70" fill="#000"/>
<polygon points="1010.00,220.20 1014.00,220.20 1029.00,247.40 1029.00,250.00 995.00,250.00 995.00,247.40" fill="#000"/>
<polygon points="1078.00,180.20 1082.00,180.20 1097.00,207.40 1097.00,210.00 1063.00,210.00 1063.00,207.40" fill="#000"/>
<polygon points="1147.00,154.20 1151.00,154.20 1166.00,181.40 1166.00,184.00 1132.00,184.00 1132.00,181.40" fill="#000"/>
<polygon points="1215.00,138.00 1219.00,138.00 1234.00,165.20 1234.00,167.80 1200.00,167.80 1200.00,165.20" fill="#000"/>
<polygon points="1284.00,126.50 1288.00,126.50 1303.00,153.70 1303.00,156.30 1269.00,156.30 1269.00,153.70" fill="#000"/>
<polygon points="1352.00,118.20 1356.00,118.20 1371.00,145.40 1371.00,148.00 1337.00,148.00 1337.00,145.40" fill="#000"/>
<polygon points="1421.00,112.70 1425.00,112.70 1440.00,139.90 1440.00,142.50 1406.00,142.50 1406.00,139.90" fill="#000"/>
<polygon points="1489.00,108.20 1493.00,108.20 1508.00,135.40 1508.00,138.00 1474.00,138.00 1474.00,135.40" fill="#000"/>
<polygon points="1557.50,104.70 1561.50,104.70 1576.50,131.90 1576.50,134.50 1542.50,134.50 1542.50,131.90" fill="#000"/>
<polygon points="1626.00,102.00 1630.00,102.00 1645.00,129.20 1645.00,131.80 1611.00,131.80 1611.00,129.20" fill="#000"/>
<path d="M197.0,504.1 L198.0,500.1 L199.0,496.1 L200.0,492.2 L201.0,488.3 L202.0,484.6 L203.0,480.9 L204.0,477.4 L205.0,474.0 L206.0,470.7 L207.0,467.5 L208.0,464.4 L209.0,461.5 L210.0,458.7 L211.0,456.0 L212.0,453.5 L213.0,451.0 L214.0,448.6 L215.0,446.2 L216.0,443.9 L217.0,441.7 L218.0,439.5 L219.0,437.4 L220.0,435.4 L221.0,433.3 L222.0,431.3 L223.0,429.3 L224.0,427.4 L225.0,425.4 L226.0,423.5 L227.0,421.6 L228.0,419.7 L229.0,417.9 L230.0,416.0 L231.0,414.2 L232.0,412.5 L233.0,410.7 L234.0,409.0 L235.0,407.3 L236.0,405.7 L237.0,404.0 L238.0,402.4 L239.0,400.8 L240.0,399.2 L241.0,397.6 L242.0,396.1 L243.0,394.6 L244.0,393.1 L245.0,391.7 L246.0,390.3 L247.0,389.0 L248.0,387.7 L249.0,386.5 L250.0,385.2 L251.0,384.0 L252.0,382.9 L253.0,381.7 L254.0,380.6 L255.0,379.4 L256.0,378.3 L257.0,377.3 L258.0,376.2 L259.0,375.1 L260.0,374.1 L261.0,373.1 L262.0,372.1 L263.0,371.1 L264.0,370.2 L265.0,369.2 L266.0,368.3 L267.0,367.3 L268.0,366.4 L269.0,365.4 L270.0,364.5 L271.0,363.6 L272.0,362.6 L273.0,361.7 L274.0,360.8 L275.0,359.9 L276.0,359.0 L277.0,358.1 L278.0,357.1 L279.0,356.2 L280.0,355.3 L281.0,354.5 L282.0,353.6 L283.0,352.7 L284.0,351.8 L285.0,350.9 L286.0,350.0 L287.0,349.2 L288.0,348.3 L289.0,347.4 L290.0,346.6 L291.0,345.7 L292.0,344.8 L293.0,344.0 L294.0,343.1 L295.0,342.3 L296.0,341.5 L297.0,340.6 L298.0,339.8 L299.0,338.9 L300.0,338.1 L301.0,337.3 L302.0,336.5 L303.0,335.7 L304.0,334.8 L305.0,334.0 L306.0,333.2 L307.0,332.4 L308.0,331.6 L309.0,330.8 L310.0,330.0 L311.0,329.2 L312.0,328.4 L313.0,327.7 L314.0,326.9 L315.0,326.1 L316.0,325.3 L317.0,324.5 L318.0,323.8 L319.0,323.0 L320.0,322.2 L321.0,321.5 L322.0,320.7 L323.0,320.0 L324.0,319.2 L325.0,318.5 L326.0,317.7 L327.0,317.0 L328.0,316.3 L329.0,315.5 L330.0,314.8 L331.0,314.1 L332.0,313.3 L333.0,312.6 L334.0,311.9 L335.0,311.2 L336.0,310.4 L337.0,309.7 L338.0,309.0 L339.0,308.3 L340.0,307.6 L341.0,306.9 L342.0,306.2 L343.0,305.6 L344.0,304.9 L345.0,304.2 L346.0,303.5 L347.0,302.8 L348.0,302.2 L349.0,301.5 L350.0,300.8 L351.0,300.2 L352.0,299.5 L353.0,298.8 L354.0,298.2 L355.0,297.5 L356.0,296.9 L357.0,296.2 L358.0,295.6 L359.0,295.0 L360.0,294.3 L361.0,293.7 L362.0,293.0 L363.0,292.4 L364.0,291.8 L365.0,291.2 L366.0,290.5 L367.0,289.9 L368.0,289.3 L369.0,288.7 L370.0,288.0 L371.0,287.4 L372.0,286.8 L373.0,286.2 L374.0,285.6 L375.0,285.0 L376.0,284.4 L377.0,283.7 L378.0,283.1 L379.0,282.5 L380.0,281.9 L381.0,281.3 L382.0,280.7 L383.0,280.1 L384.0,279.5 L385.0,278.9 L386.0,278.3 L387.0,277.7 L388.0,277.1 L389.0,276.5 L390.0,275.9 L391.0,275.3 L392.0,274.7 L393.0,274.1 L394.0,273.5 L395.0,272.9 L396.0,272.3 L397.0,271.7 L398.0,271.1 L399.0,270.5 L400.0,269.9 L401.0,269.3 L402.0,268.7 L403.0,268.1 L404.0,267.5 L405.0,266.9 L406.0,266.3 L407.0,265.7 L408.0,265.1 L409.0,264.5 L410.0,263.9 L411.0,263.3 L412.0,262.7 L413.0,262.2 L414.0,261.6 L415.0,261.0 L416.0,260.4 L417.0,259.8 L418.0,259.2 L419.0,258.7 L420.0,258.1 L421.0,257.5 L422.0,256.9 L423.0,256.4 L424.0,255.8 L425.0,255.2 L426.0,254.6 L427.0,254.1 L428.0,253.5 L429.0,252.9 L430.0,252.4 L431.0,251.8 L432.0,251.2 L433.0,250.7 L434.0,250.1 L435.0,249.5 L436.0,249.0 L437.0,248.4 L438.0,247.9 L439.0,247.3 L440.0,246.7 L441.0,246.2 L442.0,245.6 L443.0,245.1 L444.0,244.5 L445.0,243.9 L446.0,243.4 L447.0,242.8 L448.0,242.3 L449.0,241.7 L450.0,241.2 L451.0,240.6 L452.0,240.0 L453.0,239.5 L454.0,238.9 L455.0,238.4 L456.0,237.8 L457.0,237.3 L458.0,236.7 L459.0,236.1 L460.0,235.6 L461.0,235.0 L462.0,234.5 L463.0,233.9 L464.0,233.4 L465.0,232.8 L466.0,232.2 L467.0,231.7 L468.0,231.1 L469.0,230.6 L470.0,230.0 L471.0,229.4 L472.0,228.9 L473.0,228.3 L474.0,227.8 L475.0,227.2 L476.0,226.6 L477.0,226.1 L478.0,225.5 L479.0,225.0 L480.0,224.4 L481.0,223.9 L482.0,223.3 L483.0,222.8 L484.0,222.2 L485.0,221.6 L486.0,221.1 L487.0,220.5 L488.0,220.0 L489.0,219.4 L490.0,218.9 L491.0,218.3 L492.0,217.8 L493.0,217.2 L494.0,216.7 L495.0,216.1 L496.0,215.6 L497.0,215.0 L498.0,214.5 L499.0,214.0 L500.0,213.4 L501.0,212.9 L502.0,212.3 L503.0,211.8 L504.0,211.2 L505.0,210.7 L506.0,210.1 L507.0,209.6 L508.0,209.1 L509.0,208.5 L510.0,208.0 L511.0,207.4 L512.0,206.9 L513.0,206.4 L514.0,205.8 L515.0,205.3 L516.0,204.7 L517.0,204.2 L518.0,203.7 L519.0,203.1 L520.0,202.6 L521.0,202.1 L522.0,201.5 L523.0,201.0 L524.0,200.4 L525.0,199.9 L526.0,199.4 L527.0,198.8 L528.0,198.3 L529.0,197.8 L530.0,197.2 L531.0,196.7 L532.0,196.2 L533.0,195.6 L534.0,195.1 L535.0,194.6 L536.0,194.1 L537.0,193.5 L538.0,193.0 L539.0,192.5 L540.0,191.9 L541.0,191.4 L542.0,190.9 L543.0,190.4 L544.0,189.8 L545.0,189.3 L546.0,188.8 L547.0,188.3 L548.0,187.7 L549.0,187.2 L550.0,186.7 L551.0,186.2 L552.0,185.7 L553.0,185.1 L554.0,184.6 L555.0,184.1 L556.0,183.6 L557.0,183.1 L558.0,182.6 L559.0,182.1 L560.0,181.5 L561.0,181.0 L562.0,180.5 L563.0,180.0 L564.0,179.5 L565.0,179.0 L566.0,178.5 L567.0,178.0 L568.0,177.5 L569.0,177.0 L570.0,176.5 L571.0,176.0 L572.0,175.5 L573.0,175.0 L574.0,174.5 L575.0,174.0 L576.0,173.5 L577.0,173.0 L578.0,172.5 L579.0,172.0 L580.0,171.5 L581.0,171.0 L582.0,170.5 L583.0,170.0 L584.0,169.5 L585.0,169.0 L586.0,168.5 L587.0,168.1 L588.0,167.6 L589.0,167.1 L590.0,166.6 L591.0,166.1 L592.0,165.6 L593.0,165.2 L594.0,164.7 L595.0,164.2 L596.0,163.7 L597.0,163.3 L598.0,162.8 L599.0,162.3 L600.0,161.8 L601.0,161.4 L602.0,160.9 L603.0,160.4 L604.0,160.0 L605.0,159.5 L606.0,159.0 L607.0,158.6 L608.0,158.1 L609.0,157.6 L610.0,157.2 L611.0,156.7 L612.0,156.3 L613.0,155.8 L614.0,155.4 L615.0,154.9 L616.0,154.5 L617.0,154.0 L618.0,153.6 L619.0,153.2 L620.0,152.7 L621.0,152.3 L622.0,151.8 L623.0,151.4 L624.0,151.0 L625.0,150.5 L626.0,150.1 L627.0,149.7 L628.0,149.3 L629.0,148.8 L630.0,148.4 L631.0,148.0 L632.0,147.6 L633.0,147.2 L634.0,146.7 L635.0,146.3 L636.0,145.9 L637.0,145.5 L638.0,145.1 L639.0,144.7 L640.0,144.3 L641.0,143.9 L642.0,143.5 L643.0,143.1 L644.0,142.7 L645.0,142.3 L646.0,141.9 L647.0,141.5 L648.0,141.1 L649.0,140.7 L650.0,140.3 L651.0,139.9 L652.0,139.5 L653.0,139.1 L654.0,138.7 L655.0,138.4 L656.0,138.0 L657.0,137.6 L658.0,137.2 L659.0,136.8 L660.0,136.5 L661.0,136.1 L662.0,135.7 L663.0,135.3 L664.0,135.0 L665.0,134.6 L666.0,134.2 L667.0,133.9 L668.0,133.5 L669.0,133.1 L670.0,132.8 L671.0,132.4 L672.0,132.1 L673.0,131.7 L674.0,131.4 L675.0,131.0 L676.0,130.6 L677.0,130.3 L678.0,130.0 L679.0,129.6 L680.0,129.3 L681.0,128.9 L682.0,128.6 L683.0,128.2 L684.0,127.9 L685.0,127.6 L686.0,127.2 L687.0,126.9 L688.0,126.6 L689.0,126.2 L690.0,125.9 L691.0,125.6 L692.0,125.3 L693.0,124.9 L694.0,124.6 L695.0,124.3 L696.0,124.0 L697.0,123.7 L698.0,123.4 L699.0,123.1 L700.0,122.8 L701.0,122.5 L702.0,122.2 L703.0,121.9 L704.0,121.6 L705.0,121.3 L706.0,121.0 L707.0,120.7 L708.0,120.5 L709.0,120.2 L710.0,119.9 L711.0,119.7 L712.0,119.4 L713.0,119.1 L714.0,118.9 L715.0,118.6 L716.0,118.4 L717.0,118.1 L718.0,117.9 L719.0,117.6 L720.0,117.4 L721.0,117.2 L722.0,116.9 L723.0,116.7 L724.0,116.5 L725.0,116.3 L726.0,116.1 L727.0,115.9 L728.0,115.6 L729.0,115.4 L730.0,115.2 L731.0,115.1 L732.0,114.9 L733.0,114.7 L734.0,114.5 L735.0,114.3 L736.0,114.1 L737.0,114.0 L738.0,113.8 L739.0,113.6 L740.0,113.5 L741.0,113.3 L742.0,113.2 L743.0,113.0 L744.0,112.9 L745.0,112.7 L746.0,112.6 L747.0,112.4 L748.0,112.3 L749.0,112.2 L750.0,112.1 L751.0,111.9 L752.0,111.8 L753.0,111.7 L754.0,111.6 L755.0,111.5 L756.0,111.4 L757.0,111.3 L758.0,111.2 L759.0,111.1 L760.0,111.0 L761.0,110.9 L762.0,110.8 L763.0,110.7 L764.0,110.7 L765.0,110.6 L766.0,110.5 L767.0,110.4 L768.0,110.4 L769.0,110.3 L770.0,110.2 L771.0,110.2 L772.0,110.1 L773.0,110.1 L774.0,110.0 L775.0,110.0 L776.0,109.9 L777.0,109.9 L778.0,109.8 L779.0,109.8 L780.0,109.7 L781.0,109.7 L782.0,109.7 L783.0,109.6 L784.0,109.6 L785.0,109.6 L786.0,109.6 L787.0,109.6 L788.0,109.5 L789.0,109.5 L790.0,109.5 L791.0,109.5 L792.0,109.5 L793.0,109.5 L794.0,109.5 L795.0,109.5 L796.0,109.5 L797.0,109.5 L798.0,109.5 L799.0,109.6 L800.0,109.6 L801.0,109.6 L802.0,109.6 L803.0,109.6 L804.0,109.7 L805.0,109.7 L806.0,109.8 L807.0,109.8 L808.0,109.8 L809.0,109.9 L810.0,110.0 L811.0,110.0 L812.0,110.1 L813.0,110.1 L814.0,110.2 L815.0,110.3 L816.0,110.4 L817.0,110.4 L818.0,110.5 L819.0,110.6 L820.0,110.7 L821.0,110.8 L822.0,110.9 L823.0,111.0 L824.0,111.1 L825.0,111.3 L826.0,111.4 L827.0,111.5 L828.0,111.6 L829.0,111.8 L830.0,111.9 L831.0,112.1 L832.0,112.2 L833.0,112.4 L834.0,112.5 L835.0,112.7 L836.0,112.8 L837.0,113.0 L838.0,113.2 L839.0,113.4 L840.0,113.5 L841.0,113.7 L842.0,113.9 L843.0,114.1 L844.0,114.3 L845.0,114.5 L846.0,114.7 L847.0,114.9 L848.0,115.1 L849.0,115.4 L850.0,115.6 L851.0,115.8 L852.0,116.0 L853.0,116.3 L854.0,116.5 L855.0,116.7 L856.0,117.0 L857.0,117.2 L858.0,117.5 L859.0,117.7 L860.0,118.0 L861.0,118.2 L862.0,118.5 L863.0,118.7 L864.0,119.0 L865.0,119.3 L866.0,119.5 L867.0,119.8 L868.0,120.1 L869.0,120.3 L870.0,120.6 L871.0,120.9 L872.0,121.2 L873.0,121.4 L874.0,121.7 L875.0,122.0 L876.0,122.3 L877.0,122.6 L878.0,122.8 L879.0,123.1 L880.0,123.4 L881.0,123.7 L882.0,124.0 L883.0,124.3 L884.0,124.6 L885.0,124.9 L886.0,125.2 L887.0,125.5 L888.0,125.8 L889.0,126.1 L890.0,126.4 L891.0,126.7 L892.0,127.0 L893.0,127.3 L894.0,127.6 L895.0,127.9 L896.0,128.2 L897.0,128.5 L898.0,128.8 L899.0,129.1 L900.0,129.5 L901.0,129.8 L902.0,130.1 L903.0,130.4 L904.0,130.7 L905.0,131.1 L906.0,131.4 L907.0,131.7 L908.0,132.0 L909.0,132.4 L910.0,132.7 L911.0,133.0 L912.0,133.4 L913.0,133.7 L914.0,134.0 L915.0,134.4 L916.0,134.7 L917.0,135.1 L918.0,135.4 L919.0,135.7 L920.0,136.1 L921.0,136.4 L922.0,136.8 L923.0,137.1 L924.0,137.5 L925.0,137.8 L926.0,138.2 L927.0,138.6 L928.0,138.9 L929.0,139.3 L930.0,139.7 L931.0,140.0 L932.0,140.4 L933.0,140.8 L934.0,141.1 L935.0,141.5 L936.0,141.9 L937.0,142.3 L938.0,142.7 L939.0,143.0 L940.0,143.4 L941.0,143.8 L942.0,144.2 L943.0,144.6 L944.0,145.0 L945.0,145.4 L946.0,145.8 L947.0,146.2 L948.0,146.6 L949.0,147.0 L950.0,147.4 L951.0,147.8 L952.0,148.2 L953.0,148.6 L954.0,149.1 L955.0,149.5 L956.0,149.9 L957.0,150.3 L958.0,150.7 L959.0,151.1 L960.0,151.6 L961.0,152.0 L962.0,152.4 L963.0,152.8 L964.0,153.3 L965.0,153.7 L966.0,154.1 L967.0,154.6 L968.0,155.0 L969.0,155.4 L970.0,155.9 L971.0,156.3 L972.0,156.7 L973.0,157.2 L974.0,157.6 L975.0,158.0 L976.0,158.5 L977.0,158.9 L978.0,159.4 L979.0,159.8 L980.0,160.3 L981.0,160.7 L982.0,161.2 L983.0,161.6 L984.0,162.1 L985.0,162.5 L986.0,163.0 L987.0,163.4 L988.0,163.9 L989.0,164.3 L990.0,164.8 L991.0,165.2 L992.0,165.7 L993.0,166.2 L994.0,166.6 L995.0,167.1 L996.0,167.5 L997.0,168.0 L998.0,168.5 L999.0,168.9 L1000.0,169.4 L1001.0,169.8 L1002.0,170.3 L1003.0,170.8 L1004.0,171.2 L1005.0,171.7 L1006.0,172.2 L1007.0,172.7 L1008.0,173.1 L1009.0,173.6 L1010.0,174.1 L1011.0,174.5 L1012.0,175.0 L1013.0,175.5 L1014.0,175.9 L1015.0,176.4 L1016.0,176.9 L1017.0,177.4 L1018.0,177.8 L1019.0,178.3 L1020.0,178.8 L1021.0,179.3 L1022.0,179.8 L1023.0,180.2 L1024.0,180.7 L1025.0,181.2 L1026.0,181.7 L1027.0,182.2 L1028.0,182.7 L1029.0,183.1 L1030.0,183.6 L1031.0,184.1 L1032.0,184.6 L1033.0,185.1 L1034.0,185.6 L1035.0,186.1 L1036.0,186.5 L1037.0,187.0 L1038.0,187.5 L1039.0,188.0 L1040.0,188.5 L1041.0,189.0 L1042.0,189.5 L1043.0,190.0 L1044.0,190.5 L1045.0,191.0 L1046.0,191.4 L1047.0,191.9 L1048.0,192.4 L1049.0,192.9 L1050.0,193.4 L1051.0,193.9 L1052.0,194.4 L1053.0,194.9 L1054.0,195.4 L1055.0,195.9 L1056.0,196.3 L1057.0,196.8 L1058.0,197.3 L1059.0,197.8 L1060.0,198.3 L1061.0,198.8 L1062.0,199.3 L1063.0,199.8 L1064.0,200.3 L1065.0,200.7 L1066.0,201.2 L1067.0,201.7 L1068.0,202.2 L1069.0,202.7 L1070.0,203.2 L1071.0,203.7 L1072.0,204.1 L1073.0,204.6 L1074.0,205.1 L1075.0,205.6 L1076.0,206.1 L1077.0,206.6 L1078.0,207.0 L1079.0,207.5 L1080.0,208.0 L1081.0,208.5 L1082.0,209.0 L1083.0,209.4 L1084.0,209.9 L1085.0,210.4 L1086.0,210.9 L1087.0,211.3 L1088.0,211.8 L1089.0,212.3 L1090.0,212.7 L1091.0,213.2 L1092.0,213.7 L1093.0,214.1 L1094.0,214.6 L1095.0,215.1 L1096.0,215.5 L1097.0,216.0 L1098.0,216.5 L1099.0,216.9 L1100.0,217.4 L1101.0,217.9 L1102.0,218.3 L1103.0,218.8 L1104.0,219.3 L1105.0,219.7 L1106.0,220.2 L1107.0,220.6 L1108.0,221.1 L1109.0,221.6 L1110.0,222.0 L1111.0,222.5 L1112.0,222.9 L1113.0,223.4 L1114.0,223.9 L1115.0,224.3 L1116.0,224.8 L1117.0,225.2 L1118.0,225.7 L1119.0,226.1 L1120.0,226.6 L1121.0,227.1 L1122.0,227.5 L1123.0,228.0 L1124.0,228.4 L1125.0,228.9 L1126.0,229.4 L1127.0,229.8 L1128.0,230.3 L1129.0,230.7 L1130.0,231.2 L1131.0,231.6 L1132.0,232.1 L1133.0,232.6 L1134.0,233.0 L1135.0,233.5 L1136.0,234.0 L1137.0,234.4 L1138.0,234.9 L1139.0,235.3 L1140.0,235.8 L1141.0,236.3 L1142.0,236.7 L1143.0,237.2 L1144.0,237.7 L1145.0,238.1 L1146.0,238.6 L1147.0,239.1 L1148.0,239.5 L1149.0,240.0 L1150.0,240.5 L1151.0,240.9 L1152.0,241.4 L1153.0,241.9 L1154.0,242.4 L1155.0,242.8 L1156.0,243.3 L1157.0,243.8 L1158.0,244.2 L1159.0,244.7 L1160.0,245.2 L1161.0,245.7 L1162.0,246.1 L1163.0,246.6 L1164.0,247.1 L1165.0,247.6 L1166.0,248.0 L1167.0,248.5 L1168.0,249.0 L1169.0,249.5 L1170.0,249.9 L1171.0,250.4 L1172.0,250.9 L1173.0,251.4 L1174.0,251.8 L1175.0,252.3 L1176.0,252.8 L1177.0,253.3 L1178.0,253.7 L1179.0,254.2 L1180.0,254.7 L1181.0,255.2 L1182.0,255.6 L1183.0,256.1 L1184.0,256.6 L1185.0,257.1 L1186.0,257.5 L1187.0,258.0 L1188.0,258.5 L1189.0,259.0 L1190.0,259.4 L1191.0,259.9 L1192.0,260.4 L1193.0,260.9 L1194.0,261.3 L1195.0,261.8 L1196.0,262.3 L1197.0,262.7 L1198.0,263.2 L1199.0,263.7 L1200.0,264.1 L1201.0,264.6 L1202.0,265.1 L1203.0,265.5 L1204.0,266.0 L1205.0,266.5 L1206.0,266.9 L1207.0,267.4 L1208.0,267.9 L1209.0,268.3 L1210.0,268.8 L1211.0,269.3 L1212.0,269.7 L1213.0,270.2 L1214.0,270.6 L1215.0,271.1 L1216.0,271.5 L1217.0,272.0 L1218.0,272.5 L1219.0,272.9 L1220.0,273.4 L1221.0,273.8 L1222.0,274.3 L1223.0,274.7 L1224.0,275.2 L1225.0,275.6 L1226.0,276.1 L1227.0,276.5 L1228.0,277.0 L1229.0,277.4 L1230.0,277.9 L1231.0,278.3 L1232.0,278.8 L1233.0,279.2 L1234.0,279.6 L1235.0,280.1 L1236.0,280.5 L1237.0,281.0 L1238.0,281.4 L1239.0,281.9 L1240.0,282.3 L1241.0,282.7 L1242.0,283.2 L1243.0,283.6 L1244.0,284.1 L1245.0,284.5 L1246.0,285.0 L1247.0,285.4 L1248.0,285.8 L1249.0,286.3 L1250.0,286.7 L1251.0,287.1 L1252.0,287.6 L1253.0,288.0 L1254.0,288.5 L1255.0,288.9 L1256.0,289.3 L1257.0,289.8 L1258.0,290.2 L1259.0,290.6 L1260.0,291.1 L1261.0,291.5 L1262.0,291.9 L1263.0,292.4 L1264.0,292.8 L1265.0,293.2 L1266.0,293.7 L1267.0,294.1 L1268.0,294.5 L1269.0,295.0 L1270.0,295.4 L1271.0,295.8 L1272.0,296.3 L1273.0,296.7 L1274.0,297.1 L1275.0,297.6 L1276.0,298.0 L1277.0,298.4 L1278.0,298.9 L1279.0,299.3 L1280.0,299.7 L1281.0,300.1 L1282.0,300.6 L1283.0,301.0 L1284.0,301.4 L1285.0,301.9 L1286.0,302.3 L1287.0,302.7 L1288.0,303.2 L1289.0,303.6 L1290.0,304.0 L1291.0,304.5 L1292.0,304.9 L1293.0,305.3 L1294.0,305.7 L1295.0,306.2 L1296.0,306.6 L1297.0,307.0 L1298.0,307.5 L1299.0,307.9 L1300.0,308.3 L1301.0,308.8 L1302.0,309.2 L1303.0,309.6 L1304.0,310.0 L1305.0,310.5 L1306.0,310.9 L1307.0,311.3 L1308.0,311.8 L1309.0,312.2 L1310.0,312.6 L1311.0,313.0 L1312.0,313.5 L1313.0,313.9 L1314.0,314.3 L1315.0,314.7 L1316.0,315.2 L1317.0,315.6 L1318.0,316.0 L1319.0,316.4 L1320.0,316.9 L1321.0,317.3 L1322.0,317.7 L1323.0,318.1 L1324.0,318.6 L1325.0,319.0 L1326.0,319.4 L1327.0,319.8 L1328.0,320.2 L1329.0,320.7 L1330.0,321.1 L1331.0,321.5 L1332.0,321.9 L1333.0,322.3 L1334.0,322.8 L1335.0,323.2 L1336.0,323.6 L1337.0,324.0 L1338.0,324.4 L1339.0,324.8 L1340.0,325.3 L1341.0,325.7 L1342.0,326.1 L1343.0,326.5 L1344.0,326.9 L1345.0,327.3 L1346.0,327.7 L1347.0,328.1 L1348.0,328.6 L1349.0,329.0 L1350.0,329.4 L1351.0,329.8 L1352.0,330.2 L1353.0,330.6 L1354.0,331.0 L1355.0,331.4 L1356.0,331.8 L1357.0,332.2 L1358.0,332.6 L1359.0,333.0 L1360.0,333.4 L1361.0,333.8 L1362.0,334.2 L1363.0,334.6 L1364.0,335.0 L1365.0,335.4 L1366.0,335.8 L1367.0,336.2 L1368.0,336.6 L1369.0,337.0 L1370.0,337.4 L1371.0,337.8 L1372.0,338.2 L1373.0,338.6 L1374.0,339.0 L1375.0,339.4 L1376.0,339.8 L1377.0,340.2 L1378.0,340.6 L1379.0,340.9 L1380.0,341.3 L1381.0,341.7 L1382.0,342.1 L1383.0,342.5 L1384.0,342.9 L1385.0,343.3 L1386.0,343.7 L1387.0,344.1 L1388.0,344.5 L1389.0,344.8 L1390.0,345.2 L1391.0,345.6 L1392.0,346.0 L1393.0,346.4 L1394.0,346.8 L1395.0,347.2 L1396.0,347.6 L1397.0,347.9 L1398.0,348.3 L1399.0,348.7 L1400.0,349.1 L1401.0,349.5 L1402.0,349.9 L1403.0,350.3 L1404.0,350.6 L1405.0,351.0 L1406.0,351.4 L1407.0,351.8 L1408.0,352.2 L1409.0,352.6 L1410.0,353.0 L1411.0,353.3 L1412.0,353.7 L1413.0,354.1 L1414.0,354.5 L1415.0,354.9 L1416.0,355.3 L1417.0,355.7 L1418.0,356.1 L1419.0,356.4 L1420.0,356.8 L1421.0,357.2 L1422.0,357.6 L1423.0,358.0 L1424.0,358.4 L1425.0,358.8 L1426.0,359.2 L1427.0,359.6 L1428.0,359.9 L1429.0,360.3 L1430.0,360.7 L1431.0,361.1 L1432.0,361.5 L1433.0,361.9 L1434.0,362.3 L1435.0,362.7 L1436.0,363.1 L1437.0,363.4 L1438.0,363.8 L1439.0,364.2 L1440.0,364.6 L1441.0,365.0 L1442.0,365.4 L1443.0,365.8 L1444.0,366.2 L1445.0,366.6 L1446.0,366.9 L1447.0,367.3 L1448.0,367.7 L1449.0,368.1 L1450.0,368.5 L1451.0,368.9 L1452.0,369.3 L1453.0,369.7 L1454.0,370.1 L1455.0,370.4 L1456.0,370.8 L1457.0,371.2 L1458.0,371.6 L1459.0,372.0 L1460.0,372.4 L1461.0,372.8 L1462.0,373.2 L1463.0,373.5 L1464.0,373.9 L1465.0,374.3 L1466.0,374.7 L1467.0,375.1 L1468.0,375.5 L1469.0,375.9 L1470.0,376.2 L1471.0,376.6 L1472.0,377.0 L1473.0,377.4 L1474.0,377.8 L1475.0,378.2 L1476.0,378.6 L1477.0,378.9 L1478.0,379.3 L1479.0,379.7 L1480.0,380.1 L1481.0,380.5 L1482.0,380.9 L1483.0,381.2 L1484.0,381.6 L1485.0,382.0 L1486.0,382.4 L1487.0,382.8 L1488.0,383.2 L1489.0,383.5 L1490.0,383.9 L1491.0,384.3 L1492.0,384.7 L1493.0,385.1 L1494.0,385.4 L1495.0,385.8 L1496.0,386.2 L1497.0,386.6 L1498.0,387.0 L1499.0,387.3 L1500.0,387.7 L1501.0,388.1 L1502.0,388.5 L1503.0,388.8 L1504.0,389.2 L1505.0,389.6 L1506.0,390.0 L1507.0,390.4 L1508.0,390.7 L1509.0,391.1 L1510.0,391.5 L1511.0,391.9 L1512.0,392.2 L1513.0,392.6 L1514.0,393.0 L1515.0,393.4 L1516.0,393.7 L1517.0,394.1 L1518.0,394.5 L1519.0,394.9 L1520.0,395.2 L1521.0,395.6 L1522.0,396.0 L1523.0,396.4 L1524.0,396.7 L1525.0,397.1 L1526.0,397.5 L1527.0,397.9 L1528.0,398.2 L1529.0,398.6 L1530.0,399.0 L1531.0,399.3 L1532.0,399.7 L1533.0,400.1 L1534.0,400.5 L1535.0,400.8 L1536.0,401.2 L1537.0,401.6 L1538.0,402.0 L1539.0,402.3 L1540.0,402.7 L1541.0,403.1 L1542.0,403.5 L1543.0,403.8 L1544.0,404.2 L1545.0,404.6 L1546.0,404.9 L1547.0,405.3 L1548.0,405.7 L1549.0,406.1 L1550.0,406.4 L1551.0,406.8 L1552.0,407.2 L1553.0,407.6 L1554.0,407.9 L1555.0,408.3 L1556.0,408.7 L1557.0,409.1 L1558.0,409.4 L1559.0,409.8 L1560.0,410.2 L1561.0,410.6 L1562.0,410.9 L1563.0,411.3 L1564.0,411.7 L1565.0,412.1 L1566.0,412.4 L1567.0,412.8 L1568.0,413.2 L1569.0,413.6 L1570.0,413.9 L1571.0,414.3 L1572.0,414.7 L1573.0,415.1 L1574.0,415.4 L1575.0,415.8 L1576.0,416.2 L1577.0,416.6 L1578.0,416.9 L1579.0,417.3 L1580.0,417.7 L1581.0,418.1 L1582.0,418.4 L1583.0,418.8 L1584.0,419.2 L1585.0,419.6 L1586.0,419.9 L1587.0,420.3 L1588.0,420.7 L1589.0,421.1 L1590.0,421.5 L1591.0,421.8 L1592.0,422.2 L1593.0,422.6 L1594.0,423.0 L1595.0,423.3 L1596.0,423.7 L1597.0,424.1 L1598.0,424.5 L1599.0,424.8 L1600.0,425.2 L1601.0,425.6 L1602.0,426.0 L1603.0,426.3 L1604.0,426.7 L1605.0,427.1 L1606.0,427.5 L1607.0,427.8 L1608.0,428.2 L1609.0,428.6 L1610.0,429.0 L1611.0,429.3 L1612.0,429.7 L1613.0,430.1 L1614.0,430.5 L1615.0,430.8 L1616.0,431.2 L1617.0,431.6 L1618.0,432.0 L1619.0,432.3 L1620.0,432.7 L1621.0,433.1 L1622.0,433.5 L1623.0,433.8 L1624.0,434.2 L1625.0,434.6 L1626.0,435.0 L1627.0,435.3 L1628.0,435.7" fill="none" stroke="#ff0000" stroke-width="6.5" stroke-linejoin="round"/>
<polygon points="179.50,496.20 213.50,496.20 213.50,498.80 198.50,526.00 194.50,526.00 179.50,498.80" fill="#ff0000"/>
<polygon points="248.00,359.20 282.00,359.20 282.00,361.80 267.00,389.00 263.00,389.00 248.00,361.80" fill="#ff0000"/>
<polygon points="316.00,302.60 350.00,302.60 350.00,305.20 335.00,332.40 331.00,332.40 316.00,305.20" fill="#ff0000"/>
<polygon points="384.50,259.00 418.50,259.00 418.50,261.60 403.50,288.80 399.50,288.80 384.50,261.60" fill="#ff0000"/>
<polygon points="453.00,220.00 487.00,220.00 487.00,222.60 472.00,249.80 468.00,249.80 453.00,222.60" fill="#ff0000"/>
<polygon points="521.00,183.00 555.00,183.00 555.00,185.60 540.00,212.80 536.00,212.80 521.00,185.60" fill="#ff0000"/>
<polygon points="589.50,148.80 623.50,148.80 623.50,151.40 608.50,178.60 604.50,178.60 589.50,151.40" fill="#ff0000"/>
<polygon points="658.00,121.00 692.00,121.00 692.00,123.60 677.00,150.80 673.00,150.80 658.00,123.60" fill="#ff0000"/>
<polygon points="726.00,103.00 760.00,103.00 760.00,105.60 745.00,132.80 741.00,132.80 726.00,105.60" fill="#ff0000"/>
<polygon points="790.00,99.80 824.00,99.80 824.00,102.40 809.00,129.60 805.00,129.60 790.00,102.40" fill="#ff0000"/>
<polygon points="858.00,112.00 892.00,112.00 892.00,114.60 877.00,141.80 873.00,141.80 858.00,114.60" fill="#ff0000"/>
<polygon points="927.00,135.00 961.00,135.00 961.00,137.60 946.00,164.80 942.00,164.80 927.00,137.60" fill="#ff0000"/>
<polygon points="995.00,165.00 1029.00,165.00 1029.00,167.60 1014.00,194.80 1010.00,194.80 995.00,167.60" fill="#ff0000"/>
<polygon points="1063.00,198.00 1097.00,198.00 1097.00,200.60 1082.00,227.80 1078.00,227.80 1063.00,200.60" fill="#ff0000"/>
<polygon points="1132.00,230.00 1166.00,230.00 1166.00,232.60 1151.00,259.80 1147.00,259.80 1132.00,232.60" fill="#ff0000"/>
<polygon points="1200.00,262.00 1234.00,262.00 1234.00,264.60 1219.00,291.80 1215.00,291.80 1200.00,264.60" fill="#ff0000"/>
<polygon points="1269.00,292.30 1303.00,292.30 1303.00,294.90 1288.00,322.10 1284.00,322.10 1269.00,294.90" fill="#ff0000"/>
<polygon points="1337.00,321.00 1371.00,321.00 1371.00,323.60 1356.00,350.80 1352.00,350.80 1337.00,323.60" fill="#ff0000"/>
<polygon points="1406.00,348.00 1440.00,348.00 1440.00,350.60 1425.00,377.80 1421.00,377.80 1406.00,350.60" fill="#ff0000"/>
<polygon points="1474.00,374.30 1508.00,374.30 1508.00,376.90 1493.00,404.10 1489.00,404.10 1474.00,376.90" fill="#ff0000"/>
<polygon points="1542.50,400.00 1576.50,400.00 1576.50,402.60 1561.50,429.80 1557.50,429.80 1542.50,402.60" fill="#ff0000"/>
<polygon points="1611.00,425.70 1645.00,425.70 1645.00,428.30 1630.00,455.50 1626.00,455.50 1611.00,428.30" fill="#ff0000"/>
</g>
<g font-family='"Liberation Serif", serif' font-size="50.4" fill="#000" stroke="#fff" stroke-width="0.6">
<text transform="translate(0,128.5) scale(0.93,1)" x="147.62" y="0">0</text>
<text transform="translate(0,281.9) scale(0.93,1)" y="0"><tspan x="119.62" dy="-9.83" font-size="33.0" textLength="28.95" lengthAdjust="spacingAndGlyphs">-</tspan><tspan x="147.14" dy="9.83">5</tspan></text>
<text transform="translate(0,435.4) scale(0.93,1)" y="0"><tspan x="93.55" dy="-9.83" font-size="33.0" textLength="28.95" lengthAdjust="spacingAndGlyphs">-</tspan><tspan x="120.84 147.62" dy="9.83">10</tspan></text>
<text transform="translate(0,588.8) scale(0.93,1)" y="0"><tspan x="93.55" dy="-9.83" font-size="33.0" textLength="28.95" lengthAdjust="spacingAndGlyphs">-</tspan><tspan x="120.84 147.14" dy="9.83">15</tspan></text>
<text transform="translate(0,742.2) scale(0.93,1)" y="0"><tspan x="93.55" dy="-9.83" font-size="33.0" textLength="28.95" lengthAdjust="spacingAndGlyphs">-</tspan><tspan x="121.82 147.62" dy="9.83">20</tspan></text>
<text transform="translate(0,895.6) scale(0.93,1)" y="0"><tspan x="93.55" dy="-9.83" font-size="33.0" textLength="28.95" lengthAdjust="spacingAndGlyphs">-</tspan><tspan x="121.82 147.14" dy="9.83">25</tspan></text>
<text transform="translate(0,1049.1) scale(0.93,1)" y="0"><tspan x="93.55" dy="-9.83" font-size="33.0" textLength="28.95" lengthAdjust="spacingAndGlyphs">-</tspan><tspan x="121.32 147.62" dy="9.83">30</tspan></text>
<text transform="translate(0,1202.5) scale(0.93,1)" y="0"><tspan x="93.55" dy="-9.83" font-size="33.0" textLength="28.95" lengthAdjust="spacingAndGlyphs">-</tspan><tspan x="121.32 147.14" dy="9.83">35</tspan></text>
<text transform="translate(0,1263.0) scale(0.93,1)" x="417.78 443.86" y="0">11</text>
<text transform="translate(0,1263.0) scale(0.93,1)" x="744.31 771.37" y="0">12</text>
<text transform="translate(0,1263.0) scale(0.93,1)" x="1070.84 1097.39" y="0">13</text>
<text transform="translate(0,1263.0) scale(0.93,1)" x="1397.37 1424.04" y="0">14</text>
<text transform="translate(0,1263.0) scale(0.93,1)" x="1723.89 1750.19" y="0">15</text>
</g>
<text transform="translate(0,1341.5) scale(0.96,1)" x="747.74 785.02 812.89 841.80 873.51 906.02 935.24 968.01 997.31 1031.09 1046.58 1088.01 1129.68" y="0" font-family='"Liberation Serif", serif' font-size="61" stroke="#fff" stroke-width="0.6">Frequency/GHz</text>
<text transform="translate(66,819) rotate(-90) scale(0.96,1)" x="-17.11 21.06 47.95 79.56 114.50 137.86 163.87 209.02 241.41 267.58 302.00 331.73 366.53 389.50 418.54" dy="0 -6.63 6.63 0 0 0 0 0 0 0 0 0 0 0 0" y="0" font-family='"Liberation Serif", serif' font-size="61" stroke="#fff" stroke-width="0.6">S-parameters/dB</text>
<g>
<rect x="222" y="904" width="408" height="275" fill="#000"/>
<rect x="225" y="906" width="403" height="271" fill="#fff"/>
<g shape-rendering="crispEdges">
<line x1="231" y1="943" x2="352" y2="943" stroke="#0000ff" stroke-width="6.5" stroke-linecap="round"/>
<rect x="278.0" y="930.0" width="27" height="27" fill="#0000ff"/>
<line x1="231" y1="1008.5" x2="352" y2="1008.5" stroke="#00dc00" stroke-width="6.5" stroke-linecap="round"/>
<circle cx="291.0" cy="1008.5" r="14.25" fill="#00dc00"/>
<line x1="231" y1="1074.5" x2="352" y2="1074.5" stroke="#000" stroke-width="6.5" stroke-linecap="round"/>
<polygon points="289.50,1055.20 293.50,1055.20 308.50,1082.40 308.50,1085.00 274.50,1085.00 274.50,1082.40" fill="#000"/>
<line x1="231" y1="1140" x2="352" y2="1140" stroke="#ff0000" stroke-width="6.5" stroke-linecap="round"/>
<polygon points="274.50,1130.00 308.50,1130.00 308.50,1132.60 293.50,1159.80 289.50,1159.80 274.50,1132.60" fill="#ff0000"/>
</g>
<text transform="translate(0,964.4) scale(0.8,1)" x="472.36 515.14 552.26 589.76 636.75 664.76 703.28 740.78" y="0" font-family='"Liberation Serif", serif' font-size="61" stroke="#fff" stroke-width="0.6">HFSS S11</text>
<text transform="translate(0,1030.2) scale(0.8,1)" x="472.36 515.14 552.26 589.76 636.75 664.76 704.47 740.78" y="0" font-family='"Liberation Serif", serif' font-size="61" stroke="#fff" stroke-width="0.6">HFSS S21</text>
<text transform="translate(0,1095.2) scale(0.8,1)" x="474.46 514.76 550.70 599.25 627.26 665.78 703.28" y="0" font-family='"Liberation Serif", serif' font-size="61" stroke="#fff" stroke-width="0.6">CST S11</text>
<text transform="translate(0,1161.3) scale(0.8,1)" x="474.46 514.76 550.70 599.25 627.26 666.97 703.28" y="0" font-family='"Liberation Serif", serif' font-size="61" stroke="#fff" stroke-width="0.6">CST S21</text>
</g>
</svg>
</body></html>
